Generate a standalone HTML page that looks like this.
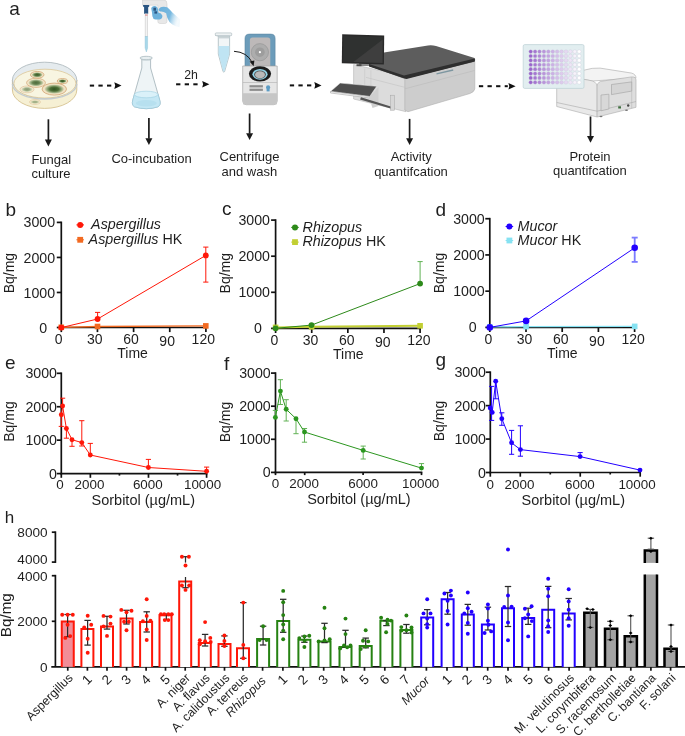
<!DOCTYPE html><html><head><meta charset="utf-8"><style>html,body{margin:0;padding:0;background:#fff;overflow:hidden}svg{display:block;will-change:transform}text{font-family:"Liberation Sans",sans-serif}</style></head><body>
<svg width="685" height="736" viewBox="0 0 685 736">
<rect width="685" height="736" fill="#fff"/>
<text x="9.30" y="14.60" font-size="19" text-anchor="start" fill="#1e1e1e" >a</text>
<defs><radialGradient id="col"><stop offset="0" stop-color="#2f5220"/><stop offset="0.45" stop-color="#4e6f37"/><stop offset="0.75" stop-color="#98ad7f"/><stop offset="1" stop-color="#e6dcb9"/></radialGradient></defs>
<path d="M12.399999999999999,80 A32.2,18 0 0 0 76.80000000000001,80 L76.80000000000001,90 A32.2,18.4 0 0 1 12.399999999999999,90 Z" fill="#f6f0d4" stroke="#d6c290" stroke-width="0.9"/>
<ellipse cx="44.6" cy="80.2" rx="32.2" ry="18" fill="#e5ebee" stroke="#b1bbbf" stroke-width="0.9"/>
<ellipse cx="44.9" cy="83.6" rx="31.0" ry="14.4" fill="#f8f5e1" stroke="#dcc797" stroke-width="0.8"/>
<path d="M12.399999999999999,84 A32.2,15 0 0 0 76.80000000000001,84" fill="none" stroke="#c3cbcf" stroke-width="1.3"/>
<g opacity="0.95"><ellipse cx="37.2" cy="74.8" rx="6.8" ry="3.4" fill="#f1e2c4" stroke="#d2a574" stroke-width="0.8"/><ellipse cx="37.2" cy="74.8" rx="5.44" ry="2.652" fill="url(#col)"/></g>
<g opacity="0.85"><ellipse cx="36" cy="82.8" rx="9.5" ry="4.6" fill="#f1e2c4" stroke="#d2a574" stroke-width="0.8"/><ellipse cx="36" cy="82.8" rx="7.6000000000000005" ry="3.5879999999999996" fill="url(#col)"/></g>
<g opacity="1.0"><ellipse cx="62.5" cy="81.1" rx="5.2" ry="2.5" fill="#f1e2c4" stroke="#d2a574" stroke-width="0.8"/><ellipse cx="62.5" cy="81.1" rx="4.16" ry="1.9500000000000002" fill="url(#col)"/></g>
<g opacity="1.0"><ellipse cx="54.3" cy="89.1" rx="12.2" ry="6.0" fill="#f1e2c4" stroke="#d2a574" stroke-width="0.8"/><ellipse cx="54.3" cy="89.1" rx="9.76" ry="4.68" fill="url(#col)"/></g>
<g opacity="0.55"><ellipse cx="27" cy="89.4" rx="7" ry="3.4" fill="#f1e2c4" stroke="#d2a574" stroke-width="0.8"/><ellipse cx="27" cy="89.4" rx="5.6000000000000005" ry="2.652" fill="url(#col)"/></g>
<g opacity="0.45"><ellipse cx="35" cy="102" rx="5.5" ry="2.4" fill="#f1e2c4" stroke="#d2a574" stroke-width="0.8"/><ellipse cx="35" cy="102" rx="4.4" ry="1.8719999999999999" fill="url(#col)"/></g>
<path d="M141.8,58.5 L141.8,68 L132.8,100 Q131.3,105 134.5,106.8 Q146.3,110.6 158,106.8 Q161.2,105 159.7,100 L150.6,68 L150.6,58.5 Z" fill="#eef4f6" stroke="#9fb0b6" stroke-width="0.8"/>
<path d="M134.35,94.5 L158.1,94.5 L159.7,100 Q161.2,105 158,106.8 Q146.3,110.6 134.5,106.8 Q131.3,105 132.8,100 Z" fill="#c4e7f4" stroke="#93c8dc" stroke-width="0.6"/>
<ellipse cx="146.3" cy="103.2" rx="10.5" ry="3.2" fill="#b7e0ef"/>
<ellipse cx="146.2" cy="94.5" rx="11.8" ry="3.3" fill="#daf1f9" stroke="#9ccfe1" stroke-width="0.6"/>
<ellipse cx="146.2" cy="58.0" rx="6.2" ry="1.7" fill="#e8eff1" stroke="#9fb0b6" stroke-width="0.7"/>
<line x1="142.20" y1="60.20" x2="150.20" y2="60.20" stroke="#c3cfd3" stroke-width="0.8" />
<defs><linearGradient id="glove" x1="0" x2="1" y1="0" y2="0.3"><stop offset="0" stop-color="#6aafda"/><stop offset="0.6" stop-color="#78b9e0"/><stop offset="1" stop-color="#d8ecf7" stop-opacity="0.3"/></linearGradient></defs>
<path d="M142.5,0 L164,0 Q167,0 167,4 L167,21.3 Q167,23.5 164.8,23.5 L160,23.5 Q157.8,23.5 157.8,21.3 L157.8,5.2 L142.5,5.2 Z" fill="#e8e8e8" stroke="#cacaca" stroke-width="0.5"/>
<path d="M143.1,5.1 L149.2,5.1 L149.2,6.6 L148.2,7.3 L148.2,13.8 L144.1,13.8 L144.1,7.3 L143.1,6.6 Z" fill="#2a5582"/>
<path d="M151.2,8.6 Q151.6,5.9 154.6,5.9 Q157.6,6.3 158.1,9.5 L158.3,12.6 Q161.6,13.2 162.4,15.8 Q162.6,18.8 159.6,19.6 L155.6,19.6 Q152.8,19 152.4,16.2 L152,12.5 Z" fill="#6db1db"/>
<rect x="153.40" y="7.70" width="2.60" height="3.00" fill="#2a5582" stroke="none" stroke-width="0"/>
<rect x="154.40" y="11.30" width="2.70" height="2.30" fill="#2a5582" stroke="none" stroke-width="0"/>
<path d="M158.6,9.6 Q159.6,7.0 163.4,6.8 Q167.6,6.6 169.4,9.2 L172.4,12.6 Q176.4,16.2 180.2,19.4 L179.6,27.2 Q175.6,26.6 172.4,24.4 Q168.6,22.2 167.2,17.6 L166.2,13.2 Q163.2,11.2 160.2,11.6 Q158.6,11.2 158.6,9.6 Z" fill="url(#glove)"/>
<rect x="145.10" y="13.80" width="2.50" height="23.00" fill="#f3f3f3" stroke="#b5b5b5" stroke-width="0.4"/>
<path d="M145.1,36.5 L147.6,36.5 L147.6,48 L146.35,52 L145.1,48 Z" fill="#a8d8ea" stroke="#8cc0d4" stroke-width="0.4"/>
<rect x="145.10" y="14.60" width="2.50" height="0.90" fill="#e07070" stroke="none" stroke-width="0"/>
<path d="M218.3,35.8 L229.6,35.8 L229.6,54 L224.6,71.6 Q223.8,72.6 223,71.6 L218.3,54 Z" fill="#f2f6f7" stroke="#9eb0b6" stroke-width="0.7"/>
<path d="M218.6,46 L229.3,46 L229.3,54 L224.5,71 Q223.8,72 223.1,71 L218.6,54 Z" fill="#bfe4f3"/>
<rect x="218.70" y="35.80" width="10.60" height="2.60" fill="#c9d3d6" stroke="none" stroke-width="0"/>
<path d="M215.2,34.8 L215.5,35.8 L218.6,36.6 L218.6,35 Z" fill="#b9c4c8"/>
<rect x="215.3" y="32.9" width="16.4" height="2.8" rx="0.8" fill="#eef2f3" stroke="#a5b4b9" stroke-width="0.6"/>
<path d="M245,66.2 L245,38.5 Q245,34.1 249.5,34.1 L270.6,34.1 Q275.1,34.1 275.1,38.5 L275.1,66.2 Z" fill="#6c9cba" stroke="#5a86a2" stroke-width="0.6"/>
<path d="M249.9,66 L249.9,40 Q249.9,37.4 252.5,37.4 L267.7,37.4 Q270.3,37.4 270.3,40 L270.3,66 Z" fill="#bdb9b9"/>
<circle cx="259.9" cy="52.2" r="8.6" fill="#adadad" stroke="#9b9b9b" stroke-width="0.8"/>
<circle cx="259.9" cy="52.2" r="4.8" fill="#9d9d9d"/>
<circle cx="259.9" cy="52.2" r="1.1" fill="#fff"/>
<path d="M242.7,66 L277.2,66 L277.2,101 Q277.2,104.7 273.5,104.7 L246.4,104.7 Q242.7,104.7 242.7,101 Z" fill="#e6e6e6" stroke="#a5a5a5" stroke-width="0.7"/>
<rect x="243.10" y="93.40" width="33.70" height="11.00" fill="#c8c8c8" stroke="none" stroke-width="0"/>
<path d="M243.1,93.4 L276.8,93.4 L276.8,101 Q276.8,104.3 273.5,104.3 L246.4,104.3 Q243.1,104.3 243.1,101 Z" fill="#c6c6c6"/>
<line x1="242.80" y1="82.50" x2="277.10" y2="82.50" stroke="#b0b0b0" stroke-width="0.6" />
<ellipse cx="260" cy="73.8" rx="11.1" ry="7.6" fill="#1c1c1c"/>
<ellipse cx="260" cy="74.3" rx="7.6" ry="5.4" fill="#93d4e8"/>
<ellipse cx="260" cy="74.6" rx="5.9" ry="4.1" fill="#555"/>
<ellipse cx="260" cy="74.8" rx="5.0" ry="3.5" fill="#b9b9b9"/>
<rect x="249.50" y="85.20" width="13.40" height="2.20" fill="#8d8d8d" stroke="none" stroke-width="0"/>
<rect x="249.50" y="88.70" width="13.40" height="2.20" fill="#8d8d8d" stroke="none" stroke-width="0"/>
<circle cx="268.1" cy="87.4" r="2.1" fill="#5d9cc4"/>
<rect x="266.60" y="89.00" width="3.00" height="2.40" fill="#5d9cc4" stroke="none" stroke-width="0"/>
<path d="M234,51.3 Q247,52 252.2,62.5" fill="none" stroke="#1a1a1a" stroke-width="1"/>
<polyline points="249.60,61.50 253.60,66.20 254.40,60.40 249.60,61.50" fill="#1a1a1a" stroke="none" stroke-width="0" />
<path d="M353.6,64.5 L406,76.5 L406,111.7 L353.6,99 Z" fill="#dcdcdc" stroke="#b5b5b5" stroke-width="0.6"/>
<path d="M404.8,78 L474.8,61.5 L474.8,89 Q474,92 470,93.5 L408,111.7 L404.8,110 Z" fill="#cdcdcd" stroke="#b0b0b0" stroke-width="0.6"/>
<line x1="404.80" y1="88.80" x2="474.60" y2="70.50" stroke="#bdbdbd" stroke-width="0.7" />
<line x1="366.00" y1="77.40" x2="405.50" y2="87.50" stroke="#c2c2c2" stroke-width="0.6" />
<line x1="364.70" y1="68.70" x2="364.70" y2="97.50" stroke="#c8c8c8" stroke-width="0.6" />
<line x1="370.90" y1="70.20" x2="370.90" y2="99.50" stroke="#c8c8c8" stroke-width="0.6" />
<path d="M369,64 L384,52.5 L428,45.4 Q432,44.8 436,46 L474.5,58 Q476,60 474.5,61.5 L407,78.2 Q405,79 403,78.2 L369,66 Z" fill="#5d5d5d"/>
<path d="M369,64 L404,75.6 L474.8,58.5 L474.8,61.6 L406.5,79 L369,66.6 Z" fill="#2e2e2e"/>
<line x1="436.50" y1="73.80" x2="453.20" y2="70.00" stroke="#7d96a0" stroke-width="1.3" />
<rect x="359" y="62" width="10" height="4" fill="#8a8a8a"/>
<polyline points="342.20,34.20 384.20,35.60 383.90,64.40 341.80,63.20 342.20,34.20" fill="#2a2a2a" stroke="none" stroke-width="0" />
<polyline points="343.50,35.90 382.70,37.10 382.50,62.90 343.20,61.80 343.50,35.90" fill="#2f3130" stroke="none" stroke-width="0" />
<polyline points="382.70,39.60 382.50,62.90 353.40,62.10 382.70,39.60" fill="#3e3e3e" stroke="none" stroke-width="0" />
<rect x="356.50" y="64.20" width="5.00" height="2.00" fill="#4a4a4a" stroke="none" stroke-width="0"/>
<path d="M330.5,91.4 L340.2,83.1 L376.7,86.3 L369.7,96.5 Z" fill="#4e4e4e" stroke="#eee" stroke-width="0.5"/>
<path d="M330.5,91.4 L369.7,96.5 L369.7,98 L330.5,93 Z" fill="#f2f2f2" stroke="#999" stroke-width="0.5"/>
<path d="M369,97.5 L378.5,87 L378.5,106 L372.5,108 Z" fill="#cfcfcf"/>
<path d="M361,97.2 L394,107.4 L394,109.6 L360,99.4 Z" fill="#555"/>
<rect x="390.60" y="95.20" width="4.00" height="15.00" fill="#d6d6d6" stroke="#a5a5a5" stroke-width="0.5"/>
<path d="M552,74 L584.4,70.1 Q592,67.6 600.1,68.1 L631.7,73.1 Q636,74.5 636,78 L592.3,81 Z" fill="#f3f3f3" stroke="#a9a9a9" stroke-width="0.6"/>
<path d="M552,74 L589,80.2 Q596.5,81.2 597.1,86 L597.1,117 L556.7,106.5 L556.7,79 Z" fill="#e9e9e9" stroke="#a9a9a9" stroke-width="0.6"/>
<path d="M597.1,86 Q597.5,81.4 603,81 L631.7,76.9 Q636,76.8 636,80 L636,107.3 L597.1,117 Z" fill="#dedede" stroke="#a9a9a9" stroke-width="0.6"/>
<line x1="631.70" y1="77.00" x2="631.70" y2="108.30" stroke="#b9b9b9" stroke-width="0.6" />
<line x1="556.70" y1="102.50" x2="597.10" y2="111.20" stroke="#a8a8a8" stroke-width="0.6" />
<line x1="597.10" y1="111.20" x2="636.00" y2="101.50" stroke="#a8a8a8" stroke-width="0.6" />
<path d="M611.5,84.5 L631.7,81.9 L631.7,91.1 L611.5,94.6 Z" fill="#d4d4d4" stroke="#9f9f9f" stroke-width="0.6"/>
<path d="M601,95 L608.9,94.2 L608.9,109 L601,110.8 Z" fill="#d8d8d8" stroke="#a3a3a3" stroke-width="0.6"/>
<rect x="618.20" y="106.30" width="2.80" height="2.20" fill="#3f6f3f" stroke="none" stroke-width="0"/>
<circle cx="628.20" cy="105.50" r="1.2" fill="#444"/>
<ellipse cx="601" cy="116.5" rx="1.5" ry="0.8" fill="#777"/>
<ellipse cx="626.5" cy="110.3" rx="1.5" ry="0.8" fill="#777"/>
<rect x="523.2" y="44.6" width="60.8" height="43.8" rx="1.5" fill="#e2eef0" stroke="#bcd0d4" stroke-width="0.7"/>
<circle cx="530.70" cy="51.60" r="1.85" fill="#9a66cc" stroke="#c9c3d6" stroke-width="0.3"/>
<circle cx="530.70" cy="55.99" r="1.85" fill="#9a66cc" stroke="#c9c3d6" stroke-width="0.3"/>
<circle cx="530.70" cy="60.38" r="1.85" fill="#9a66cc" stroke="#c9c3d6" stroke-width="0.3"/>
<circle cx="530.70" cy="64.77" r="1.85" fill="#9a66cc" stroke="#c9c3d6" stroke-width="0.3"/>
<circle cx="530.70" cy="69.16" r="1.85" fill="#9a66cc" stroke="#c9c3d6" stroke-width="0.3"/>
<circle cx="530.70" cy="73.55" r="1.85" fill="#9a66cc" stroke="#c9c3d6" stroke-width="0.3"/>
<circle cx="530.70" cy="77.94" r="1.85" fill="#9a66cc" stroke="#c9c3d6" stroke-width="0.3"/>
<circle cx="530.70" cy="82.33" r="1.85" fill="#9a66cc" stroke="#c9c3d6" stroke-width="0.3"/>
<circle cx="535.11" cy="51.60" r="1.85" fill="#a577d1" stroke="#c9c3d6" stroke-width="0.3"/>
<circle cx="535.11" cy="55.99" r="1.85" fill="#a577d1" stroke="#c9c3d6" stroke-width="0.3"/>
<circle cx="535.11" cy="60.38" r="1.85" fill="#a577d1" stroke="#c9c3d6" stroke-width="0.3"/>
<circle cx="535.11" cy="64.77" r="1.85" fill="#a577d1" stroke="#c9c3d6" stroke-width="0.3"/>
<circle cx="535.11" cy="69.16" r="1.85" fill="#a577d1" stroke="#c9c3d6" stroke-width="0.3"/>
<circle cx="535.11" cy="73.55" r="1.85" fill="#a577d1" stroke="#c9c3d6" stroke-width="0.3"/>
<circle cx="535.11" cy="77.94" r="1.85" fill="#a577d1" stroke="#c9c3d6" stroke-width="0.3"/>
<circle cx="535.11" cy="82.33" r="1.85" fill="#a577d1" stroke="#c9c3d6" stroke-width="0.3"/>
<circle cx="539.52" cy="51.60" r="1.85" fill="#af86d6" stroke="#c9c3d6" stroke-width="0.3"/>
<circle cx="539.52" cy="55.99" r="1.85" fill="#af86d6" stroke="#c9c3d6" stroke-width="0.3"/>
<circle cx="539.52" cy="60.38" r="1.85" fill="#af86d6" stroke="#c9c3d6" stroke-width="0.3"/>
<circle cx="539.52" cy="64.77" r="1.85" fill="#af86d6" stroke="#c9c3d6" stroke-width="0.3"/>
<circle cx="539.52" cy="69.16" r="1.85" fill="#af86d6" stroke="#c9c3d6" stroke-width="0.3"/>
<circle cx="539.52" cy="73.55" r="1.85" fill="#af86d6" stroke="#c9c3d6" stroke-width="0.3"/>
<circle cx="539.52" cy="77.94" r="1.85" fill="#af86d6" stroke="#c9c3d6" stroke-width="0.3"/>
<circle cx="539.52" cy="82.33" r="1.85" fill="#af86d6" stroke="#c9c3d6" stroke-width="0.3"/>
<circle cx="543.93" cy="51.60" r="1.85" fill="#b995db" stroke="#c9c3d6" stroke-width="0.3"/>
<circle cx="543.93" cy="55.99" r="1.85" fill="#b995db" stroke="#c9c3d6" stroke-width="0.3"/>
<circle cx="543.93" cy="60.38" r="1.85" fill="#b995db" stroke="#c9c3d6" stroke-width="0.3"/>
<circle cx="543.93" cy="64.77" r="1.85" fill="#b995db" stroke="#c9c3d6" stroke-width="0.3"/>
<circle cx="543.93" cy="69.16" r="1.85" fill="#b995db" stroke="#c9c3d6" stroke-width="0.3"/>
<circle cx="543.93" cy="73.55" r="1.85" fill="#b995db" stroke="#c9c3d6" stroke-width="0.3"/>
<circle cx="543.93" cy="77.94" r="1.85" fill="#b995db" stroke="#c9c3d6" stroke-width="0.3"/>
<circle cx="543.93" cy="82.33" r="1.85" fill="#b995db" stroke="#c9c3d6" stroke-width="0.3"/>
<circle cx="548.34" cy="51.60" r="1.85" fill="#c2a3e0" stroke="#c9c3d6" stroke-width="0.3"/>
<circle cx="548.34" cy="55.99" r="1.85" fill="#c2a3e0" stroke="#c9c3d6" stroke-width="0.3"/>
<circle cx="548.34" cy="60.38" r="1.85" fill="#c2a3e0" stroke="#c9c3d6" stroke-width="0.3"/>
<circle cx="548.34" cy="64.77" r="1.85" fill="#c2a3e0" stroke="#c9c3d6" stroke-width="0.3"/>
<circle cx="548.34" cy="69.16" r="1.85" fill="#c2a3e0" stroke="#c9c3d6" stroke-width="0.3"/>
<circle cx="548.34" cy="73.55" r="1.85" fill="#c2a3e0" stroke="#c9c3d6" stroke-width="0.3"/>
<circle cx="548.34" cy="77.94" r="1.85" fill="#c2a3e0" stroke="#c9c3d6" stroke-width="0.3"/>
<circle cx="548.34" cy="82.33" r="1.85" fill="#c2a3e0" stroke="#c9c3d6" stroke-width="0.3"/>
<circle cx="552.75" cy="51.60" r="1.85" fill="#cbb1e5" stroke="#c9c3d6" stroke-width="0.3"/>
<circle cx="552.75" cy="55.99" r="1.85" fill="#cbb1e5" stroke="#c9c3d6" stroke-width="0.3"/>
<circle cx="552.75" cy="60.38" r="1.85" fill="#cbb1e5" stroke="#c9c3d6" stroke-width="0.3"/>
<circle cx="552.75" cy="64.77" r="1.85" fill="#cbb1e5" stroke="#c9c3d6" stroke-width="0.3"/>
<circle cx="552.75" cy="69.16" r="1.85" fill="#cbb1e5" stroke="#c9c3d6" stroke-width="0.3"/>
<circle cx="552.75" cy="73.55" r="1.85" fill="#cbb1e5" stroke="#c9c3d6" stroke-width="0.3"/>
<circle cx="552.75" cy="77.94" r="1.85" fill="#cbb1e5" stroke="#c9c3d6" stroke-width="0.3"/>
<circle cx="552.75" cy="82.33" r="1.85" fill="#cbb1e5" stroke="#c9c3d6" stroke-width="0.3"/>
<circle cx="557.16" cy="51.60" r="1.85" fill="#d4bee9" stroke="#c9c3d6" stroke-width="0.3"/>
<circle cx="557.16" cy="55.99" r="1.85" fill="#d4bee9" stroke="#c9c3d6" stroke-width="0.3"/>
<circle cx="557.16" cy="60.38" r="1.85" fill="#d4bee9" stroke="#c9c3d6" stroke-width="0.3"/>
<circle cx="557.16" cy="64.77" r="1.85" fill="#d4bee9" stroke="#c9c3d6" stroke-width="0.3"/>
<circle cx="557.16" cy="69.16" r="1.85" fill="#d4bee9" stroke="#c9c3d6" stroke-width="0.3"/>
<circle cx="557.16" cy="73.55" r="1.85" fill="#d4bee9" stroke="#c9c3d6" stroke-width="0.3"/>
<circle cx="557.16" cy="77.94" r="1.85" fill="#d4bee9" stroke="#c9c3d6" stroke-width="0.3"/>
<circle cx="557.16" cy="82.33" r="1.85" fill="#d4bee9" stroke="#c9c3d6" stroke-width="0.3"/>
<circle cx="561.57" cy="51.60" r="1.85" fill="#ddcbed" stroke="#c9c3d6" stroke-width="0.3"/>
<circle cx="561.57" cy="55.99" r="1.85" fill="#ddcbed" stroke="#c9c3d6" stroke-width="0.3"/>
<circle cx="561.57" cy="60.38" r="1.85" fill="#ddcbed" stroke="#c9c3d6" stroke-width="0.3"/>
<circle cx="561.57" cy="64.77" r="1.85" fill="#ddcbed" stroke="#c9c3d6" stroke-width="0.3"/>
<circle cx="561.57" cy="69.16" r="1.85" fill="#ddcbed" stroke="#c9c3d6" stroke-width="0.3"/>
<circle cx="561.57" cy="73.55" r="1.85" fill="#ddcbed" stroke="#c9c3d6" stroke-width="0.3"/>
<circle cx="561.57" cy="77.94" r="1.85" fill="#ddcbed" stroke="#c9c3d6" stroke-width="0.3"/>
<circle cx="561.57" cy="82.33" r="1.85" fill="#ddcbed" stroke="#c9c3d6" stroke-width="0.3"/>
<circle cx="565.98" cy="51.60" r="1.85" fill="#e5d8f2" stroke="#c9c3d6" stroke-width="0.3"/>
<circle cx="565.98" cy="55.99" r="1.85" fill="#e5d8f2" stroke="#c9c3d6" stroke-width="0.3"/>
<circle cx="565.98" cy="60.38" r="1.85" fill="#e5d8f2" stroke="#c9c3d6" stroke-width="0.3"/>
<circle cx="565.98" cy="64.77" r="1.85" fill="#e5d8f2" stroke="#c9c3d6" stroke-width="0.3"/>
<circle cx="565.98" cy="69.16" r="1.85" fill="#e5d8f2" stroke="#c9c3d6" stroke-width="0.3"/>
<circle cx="565.98" cy="73.55" r="1.85" fill="#e5d8f2" stroke="#c9c3d6" stroke-width="0.3"/>
<circle cx="565.98" cy="77.94" r="1.85" fill="#e5d8f2" stroke="#c9c3d6" stroke-width="0.3"/>
<circle cx="565.98" cy="82.33" r="1.85" fill="#e5d8f2" stroke="#c9c3d6" stroke-width="0.3"/>
<circle cx="570.39" cy="51.60" r="1.85" fill="#eee5f6" stroke="#c9c3d6" stroke-width="0.3"/>
<circle cx="570.39" cy="55.99" r="1.85" fill="#eee5f6" stroke="#c9c3d6" stroke-width="0.3"/>
<circle cx="570.39" cy="60.38" r="1.85" fill="#eee5f6" stroke="#c9c3d6" stroke-width="0.3"/>
<circle cx="570.39" cy="64.77" r="1.85" fill="#eee5f6" stroke="#c9c3d6" stroke-width="0.3"/>
<circle cx="570.39" cy="69.16" r="1.85" fill="#eee5f6" stroke="#c9c3d6" stroke-width="0.3"/>
<circle cx="570.39" cy="73.55" r="1.85" fill="#eee5f6" stroke="#c9c3d6" stroke-width="0.3"/>
<circle cx="570.39" cy="77.94" r="1.85" fill="#eee5f6" stroke="#c9c3d6" stroke-width="0.3"/>
<circle cx="570.39" cy="82.33" r="1.85" fill="#eee5f6" stroke="#c9c3d6" stroke-width="0.3"/>
<circle cx="574.80" cy="51.60" r="1.85" fill="#f6f2fa" stroke="#c9c3d6" stroke-width="0.3"/>
<circle cx="574.80" cy="55.99" r="1.85" fill="#f6f2fa" stroke="#c9c3d6" stroke-width="0.3"/>
<circle cx="574.80" cy="60.38" r="1.85" fill="#f6f2fa" stroke="#c9c3d6" stroke-width="0.3"/>
<circle cx="574.80" cy="64.77" r="1.85" fill="#f6f2fa" stroke="#c9c3d6" stroke-width="0.3"/>
<circle cx="574.80" cy="69.16" r="1.85" fill="#f6f2fa" stroke="#c9c3d6" stroke-width="0.3"/>
<circle cx="574.80" cy="73.55" r="1.85" fill="#f6f2fa" stroke="#c9c3d6" stroke-width="0.3"/>
<circle cx="574.80" cy="77.94" r="1.85" fill="#f6f2fa" stroke="#c9c3d6" stroke-width="0.3"/>
<circle cx="574.80" cy="82.33" r="1.85" fill="#f6f2fa" stroke="#c9c3d6" stroke-width="0.3"/>
<circle cx="579.21" cy="51.60" r="1.85" fill="#ffffff" stroke="#c9c3d6" stroke-width="0.3"/>
<circle cx="579.21" cy="55.99" r="1.85" fill="#ffffff" stroke="#c9c3d6" stroke-width="0.3"/>
<circle cx="579.21" cy="60.38" r="1.85" fill="#ffffff" stroke="#c9c3d6" stroke-width="0.3"/>
<circle cx="579.21" cy="64.77" r="1.85" fill="#ffffff" stroke="#c9c3d6" stroke-width="0.3"/>
<circle cx="579.21" cy="69.16" r="1.85" fill="#ffffff" stroke="#c9c3d6" stroke-width="0.3"/>
<circle cx="579.21" cy="73.55" r="1.85" fill="#ffffff" stroke="#c9c3d6" stroke-width="0.3"/>
<circle cx="579.21" cy="77.94" r="1.85" fill="#ffffff" stroke="#c9c3d6" stroke-width="0.3"/>
<circle cx="579.21" cy="82.33" r="1.85" fill="#ffffff" stroke="#c9c3d6" stroke-width="0.3"/>
<rect x="89.80" y="84.60" width="4.30" height="2.00" fill="#111" stroke="none" stroke-width="0"/>
<rect x="98.40" y="84.60" width="4.30" height="2.00" fill="#111" stroke="none" stroke-width="0"/>
<rect x="107.00" y="84.60" width="4.30" height="2.00" fill="#111" stroke="none" stroke-width="0"/>
<path d="M114.30,82.30 L121.50,85.60 L114.30,88.90 L115.20,85.60 Z" fill="#111"/>
<rect x="176.10" y="83.30" width="4.30" height="2.00" fill="#111" stroke="none" stroke-width="0"/>
<rect x="184.70" y="83.30" width="4.30" height="2.00" fill="#111" stroke="none" stroke-width="0"/>
<rect x="193.30" y="83.30" width="4.30" height="2.00" fill="#111" stroke="none" stroke-width="0"/>
<path d="M202.20,81.00 L209.40,84.30 L202.20,87.60 L203.10,84.30 Z" fill="#111"/>
<rect x="289.80" y="84.40" width="4.30" height="2.00" fill="#111" stroke="none" stroke-width="0"/>
<rect x="298.40" y="84.40" width="4.30" height="2.00" fill="#111" stroke="none" stroke-width="0"/>
<rect x="307.00" y="84.40" width="4.30" height="2.00" fill="#111" stroke="none" stroke-width="0"/>
<path d="M314.30,82.10 L321.50,85.40 L314.30,88.70 L315.20,85.40 Z" fill="#111"/>
<rect x="478.90" y="85.20" width="4.30" height="2.00" fill="#111" stroke="none" stroke-width="0"/>
<rect x="487.50" y="85.20" width="4.30" height="2.00" fill="#111" stroke="none" stroke-width="0"/>
<rect x="496.10" y="85.20" width="4.30" height="2.00" fill="#111" stroke="none" stroke-width="0"/>
<rect x="504.70" y="85.20" width="3.10" height="2.00" fill="#111" stroke="none" stroke-width="0"/>
<path d="M508.40,82.90 L515.60,86.20 L508.40,89.50 L509.30,86.20 Z" fill="#111"/>
<text x="191.10" y="78.70" font-size="12.3" text-anchor="middle" fill="#1e1e1e" >2h</text>
<rect x="47.55" y="119.30" width="1.70" height="20.80" fill="#1a1a1a" stroke="none" stroke-width="0"/>
<polyline points="44.90,139.60 51.90,139.60 48.40,146.40 44.90,139.60" fill="#1a1a1a" stroke="none" stroke-width="0" />
<rect x="148.05" y="118.00" width="1.70" height="20.70" fill="#1a1a1a" stroke="none" stroke-width="0"/>
<polyline points="145.40,138.20 152.40,138.20 148.90,145.00 145.40,138.20" fill="#1a1a1a" stroke="none" stroke-width="0" />
<rect x="248.75" y="113.50" width="1.70" height="20.20" fill="#1a1a1a" stroke="none" stroke-width="0"/>
<polyline points="246.10,133.20 253.10,133.20 249.60,140.00 246.10,133.20" fill="#1a1a1a" stroke="none" stroke-width="0" />
<rect x="408.75" y="118.90" width="1.70" height="19.90" fill="#1a1a1a" stroke="none" stroke-width="0"/>
<polyline points="406.10,138.30 413.10,138.30 409.60,145.10 406.10,138.30" fill="#1a1a1a" stroke="none" stroke-width="0" />
<rect x="589.65" y="116.50" width="1.70" height="19.90" fill="#1a1a1a" stroke="none" stroke-width="0"/>
<polyline points="587.00,135.90 594.00,135.90 590.50,142.70 587.00,135.90" fill="#1a1a1a" stroke="none" stroke-width="0" />
<text x="51.30" y="163.90" font-size="13.0" text-anchor="middle" fill="#1e1e1e" >Fungal</text>
<text x="51.00" y="178.20" font-size="13.0" text-anchor="middle" fill="#1e1e1e" >culture</text>
<text x="151.50" y="162.60" font-size="13.0" text-anchor="middle" fill="#1e1e1e" >Co-incubation</text>
<text x="249.50" y="161.40" font-size="13.0" text-anchor="middle" fill="#1e1e1e" >Centrifuge</text>
<text x="249.30" y="175.80" font-size="13.0" text-anchor="middle" fill="#1e1e1e" >and wash</text>
<text x="411.30" y="161.40" font-size="13.0" text-anchor="middle" fill="#1e1e1e" >Activity</text>
<text x="411.00" y="175.60" font-size="13.0" text-anchor="middle" fill="#1e1e1e" >quantifcation</text>
<text x="590.00" y="161.00" font-size="13.0" text-anchor="middle" fill="#1e1e1e" >Protein</text>
<text x="589.80" y="175.20" font-size="13.0" text-anchor="middle" fill="#1e1e1e" >quantifcation</text>
<text x="5.60" y="215.60" font-size="19" text-anchor="start" fill="#1e1e1e" >b</text>
<line x1="61.30" y1="221.56" x2="61.30" y2="328.35" stroke="#111" stroke-width="1.7" />
<line x1="56.80" y1="222.41" x2="61.30" y2="222.41" stroke="#111" stroke-width="1.7" />
<text x="55.10" y="227.49" font-size="14.2" text-anchor="end" fill="#1e1e1e" >3000</text>
<line x1="56.80" y1="257.44" x2="61.30" y2="257.44" stroke="#111" stroke-width="1.7" />
<text x="55.10" y="262.52" font-size="14.2" text-anchor="end" fill="#1e1e1e" >2000</text>
<line x1="56.80" y1="292.47" x2="61.30" y2="292.47" stroke="#111" stroke-width="1.7" />
<text x="55.10" y="297.55" font-size="14.2" text-anchor="end" fill="#1e1e1e" >1000</text>
<line x1="56.80" y1="327.50" x2="61.30" y2="327.50" stroke="#111" stroke-width="1.7" />
<text x="47.10" y="332.58" font-size="14.2" text-anchor="end" fill="#1e1e1e" >0</text>
<line x1="60.45" y1="327.50" x2="206.75" y2="327.50" stroke="#111" stroke-width="1.7" />
<line x1="61.30" y1="327.50" x2="61.30" y2="332.10" stroke="#111" stroke-width="1.7" />
<line x1="97.45" y1="327.50" x2="97.45" y2="332.10" stroke="#111" stroke-width="1.7" />
<line x1="133.60" y1="327.50" x2="133.60" y2="332.10" stroke="#111" stroke-width="1.7" />
<line x1="169.75" y1="327.50" x2="169.75" y2="332.10" stroke="#111" stroke-width="1.7" />
<line x1="205.90" y1="327.50" x2="205.90" y2="332.10" stroke="#111" stroke-width="1.7" />
<text x="58.70" y="344.30" font-size="14" text-anchor="middle" fill="#1e1e1e" >0</text>
<text x="94.85" y="344.30" font-size="14" text-anchor="middle" fill="#1e1e1e" >30</text>
<text x="131.00" y="344.30" font-size="14" text-anchor="middle" fill="#1e1e1e" >60</text>
<text x="167.15" y="345.90" font-size="14" text-anchor="middle" fill="#1e1e1e" >90</text>
<text x="203.30" y="344.30" font-size="14" text-anchor="middle" fill="#1e1e1e" >120</text>
<text x="132.60" y="357.80" font-size="14" text-anchor="middle" fill="#1e1e1e" >Time</text>
<text x="0" y="0" font-size="14" text-anchor="middle" fill="#1e1e1e" transform="translate(14.10,273.10) rotate(-90)">Bq/mg</text>
<polyline points="61.30,327.30 97.50,326.50 205.80,325.90" fill="none" stroke="#f26a21" stroke-width="1.3" />
<rect x="58.50" y="324.50" width="5.60" height="5.60" fill="#f26a21" stroke="none" stroke-width="0"/>
<rect x="94.70" y="323.70" width="5.60" height="5.60" fill="#f26a21" stroke="none" stroke-width="0"/>
<rect x="203.00" y="323.10" width="5.60" height="5.60" fill="#f26a21" stroke="none" stroke-width="0"/>
<line x1="97.60" y1="312.40" x2="97.60" y2="319.00" stroke="#ff1708" stroke-width="1.0" />
<line x1="95.00" y1="312.40" x2="100.20" y2="312.40" stroke="#ff1708" stroke-width="1.0" />
<line x1="205.80" y1="247.10" x2="205.80" y2="255.40" stroke="#ff1708" stroke-width="1.0" />
<line x1="203.20" y1="247.10" x2="208.40" y2="247.10" stroke="#ff1708" stroke-width="1.0" />
<line x1="205.80" y1="282.10" x2="205.80" y2="255.40" stroke="#ff1708" stroke-width="1.0" />
<line x1="203.20" y1="282.10" x2="208.40" y2="282.10" stroke="#ff1708" stroke-width="1.0" />
<polyline points="61.30,327.60 97.60,319.00 205.80,255.40" fill="none" stroke="#ff1708" stroke-width="1.0" />
<circle cx="61.30" cy="327.60" r="2.9" fill="#ff1708"/>
<circle cx="97.60" cy="319.00" r="2.9" fill="#ff1708"/>
<circle cx="205.80" cy="255.40" r="2.9" fill="#ff1708"/>
<line x1="76.40" y1="224.90" x2="84.00" y2="224.90" stroke="#ff1708" stroke-width="1.0" />
<circle cx="80.20" cy="224.90" r="3.0" fill="#ff1708"/>
<rect x="77.30" y="236.90" width="5.80" height="5.80" fill="#f26a21" stroke="none" stroke-width="0"/>
<line x1="76.40" y1="239.80" x2="84.00" y2="239.80" stroke="#f26a21" stroke-width="1.0" />
<text x="91.10" y="229.30" font-size="14.3" text-anchor="start" font-style="italic" fill="#1e1e1e" >Aspergillus</text>
<text x="88.60" y="244.20" font-size="14.3" fill="#1e1e1e"><tspan font-style="italic">Aspergillus</tspan> HK</text>
<text x="221.90" y="214.90" font-size="19" text-anchor="start" fill="#1e1e1e" >c</text>
<line x1="275.60" y1="219.25" x2="275.60" y2="329.25" stroke="#111" stroke-width="1.7" />
<line x1="271.10" y1="220.10" x2="275.60" y2="220.10" stroke="#111" stroke-width="1.7" />
<text x="270.00" y="225.18" font-size="14.2" text-anchor="end" fill="#1e1e1e" >3000</text>
<line x1="271.10" y1="256.20" x2="275.60" y2="256.20" stroke="#111" stroke-width="1.7" />
<text x="270.00" y="261.28" font-size="14.2" text-anchor="end" fill="#1e1e1e" >2000</text>
<line x1="271.10" y1="292.30" x2="275.60" y2="292.30" stroke="#111" stroke-width="1.7" />
<text x="270.00" y="297.38" font-size="14.2" text-anchor="end" fill="#1e1e1e" >1000</text>
<line x1="271.10" y1="328.40" x2="275.60" y2="328.40" stroke="#111" stroke-width="1.7" />
<text x="262.00" y="333.48" font-size="14.2" text-anchor="end" fill="#1e1e1e" >0</text>
<line x1="274.75" y1="328.40" x2="420.93" y2="328.40" stroke="#111" stroke-width="1.7" />
<line x1="275.60" y1="328.40" x2="275.60" y2="333.00" stroke="#111" stroke-width="1.7" />
<line x1="311.72" y1="328.40" x2="311.72" y2="333.00" stroke="#111" stroke-width="1.7" />
<line x1="347.84" y1="328.40" x2="347.84" y2="333.00" stroke="#111" stroke-width="1.7" />
<line x1="383.96" y1="328.40" x2="383.96" y2="333.00" stroke="#111" stroke-width="1.7" />
<line x1="420.08" y1="328.40" x2="420.08" y2="333.00" stroke="#111" stroke-width="1.7" />
<text x="274.50" y="345.20" font-size="14" text-anchor="middle" fill="#1e1e1e" >0</text>
<text x="310.62" y="345.20" font-size="14" text-anchor="middle" fill="#1e1e1e" >30</text>
<text x="346.74" y="345.20" font-size="14" text-anchor="middle" fill="#1e1e1e" >60</text>
<text x="382.86" y="346.80" font-size="14" text-anchor="middle" fill="#1e1e1e" >90</text>
<text x="418.98" y="345.20" font-size="14" text-anchor="middle" fill="#1e1e1e" >120</text>
<text x="348.30" y="358.90" font-size="14" text-anchor="middle" fill="#1e1e1e" >Time</text>
<text x="0" y="0" font-size="14" text-anchor="middle" fill="#1e1e1e" transform="translate(230.10,273.20) rotate(-90)">Bq/mg</text>
<polyline points="275.60,327.40 311.60,326.80 420.10,325.80" fill="none" stroke="#c2cf33" stroke-width="2.0" />
<rect x="272.80" y="324.60" width="5.60" height="5.60" fill="#c2cf33" stroke="none" stroke-width="0"/>
<rect x="308.80" y="324.00" width="5.60" height="5.60" fill="#c2cf33" stroke="none" stroke-width="0"/>
<rect x="417.30" y="323.00" width="5.60" height="5.60" fill="#c2cf33" stroke="none" stroke-width="0"/>
<line x1="420.10" y1="261.60" x2="420.10" y2="283.60" stroke="#62b256" stroke-width="1.0" />
<line x1="417.50" y1="261.60" x2="422.70" y2="261.60" stroke="#62b256" stroke-width="1.0" />
<polyline points="275.60,328.30 311.50,325.10 420.10,283.60" fill="none" stroke="#2d8a1a" stroke-width="1.0" />
<circle cx="275.60" cy="328.30" r="2.9" fill="#2d8a1a"/>
<circle cx="311.50" cy="325.10" r="2.9" fill="#2d8a1a"/>
<circle cx="420.10" cy="283.60" r="2.9" fill="#2d8a1a"/>
<line x1="291.20" y1="227.40" x2="298.80" y2="227.40" stroke="#2d8a1a" stroke-width="1.0" />
<circle cx="295.00" cy="227.40" r="3.0" fill="#2d8a1a"/>
<rect x="292.10" y="239.20" width="5.80" height="5.80" fill="#c2cf33" stroke="none" stroke-width="0"/>
<line x1="291.20" y1="242.10" x2="298.80" y2="242.10" stroke="#c2cf33" stroke-width="1.0" />
<text x="302.60" y="231.60" font-size="14.3" text-anchor="start" font-style="italic" fill="#1e1e1e" >Rhizopus</text>
<text x="302.40" y="245.60" font-size="14.3" fill="#1e1e1e"><tspan font-style="italic">Rhizopus</tspan> HK</text>
<text x="435.60" y="215.80" font-size="19" text-anchor="start" fill="#1e1e1e" >d</text>
<line x1="489.80" y1="217.86" x2="489.80" y2="328.25" stroke="#111" stroke-width="1.7" />
<line x1="485.30" y1="218.71" x2="489.80" y2="218.71" stroke="#111" stroke-width="1.7" />
<text x="484.70" y="223.79" font-size="14.2" text-anchor="end" fill="#1e1e1e" >3000</text>
<line x1="485.30" y1="254.94" x2="489.80" y2="254.94" stroke="#111" stroke-width="1.7" />
<text x="484.70" y="260.02" font-size="14.2" text-anchor="end" fill="#1e1e1e" >2000</text>
<line x1="485.30" y1="291.17" x2="489.80" y2="291.17" stroke="#111" stroke-width="1.7" />
<text x="484.70" y="296.25" font-size="14.2" text-anchor="end" fill="#1e1e1e" >1000</text>
<line x1="485.30" y1="327.40" x2="489.80" y2="327.40" stroke="#111" stroke-width="1.7" />
<text x="476.70" y="332.48" font-size="14.2" text-anchor="end" fill="#1e1e1e" >0</text>
<line x1="488.95" y1="327.40" x2="635.45" y2="327.40" stroke="#111" stroke-width="1.7" />
<line x1="489.80" y1="327.40" x2="489.80" y2="332.00" stroke="#111" stroke-width="1.7" />
<line x1="526.00" y1="327.40" x2="526.00" y2="332.00" stroke="#111" stroke-width="1.7" />
<line x1="562.20" y1="327.40" x2="562.20" y2="332.00" stroke="#111" stroke-width="1.7" />
<line x1="598.40" y1="327.40" x2="598.40" y2="332.00" stroke="#111" stroke-width="1.7" />
<line x1="634.60" y1="327.40" x2="634.60" y2="332.00" stroke="#111" stroke-width="1.7" />
<text x="488.30" y="344.20" font-size="14" text-anchor="middle" fill="#1e1e1e" >0</text>
<text x="524.50" y="344.20" font-size="14" text-anchor="middle" fill="#1e1e1e" >30</text>
<text x="560.70" y="344.20" font-size="14" text-anchor="middle" fill="#1e1e1e" >60</text>
<text x="596.90" y="345.80" font-size="14" text-anchor="middle" fill="#1e1e1e" >90</text>
<text x="633.10" y="344.20" font-size="14" text-anchor="middle" fill="#1e1e1e" >120</text>
<text x="562.30" y="357.80" font-size="14" text-anchor="middle" fill="#1e1e1e" >Time</text>
<text x="0" y="0" font-size="14" text-anchor="middle" fill="#1e1e1e" transform="translate(444.00,273.00) rotate(-90)">Bq/mg</text>
<polyline points="489.80,326.90 526.10,326.60 634.70,326.40" fill="none" stroke="#86e2f2" stroke-width="1.3" />
<rect x="487.00" y="324.10" width="5.60" height="5.60" fill="#86e2f2" stroke="none" stroke-width="0"/>
<rect x="523.30" y="323.80" width="5.60" height="5.60" fill="#86e2f2" stroke="none" stroke-width="0"/>
<rect x="631.90" y="323.60" width="5.60" height="5.60" fill="#86e2f2" stroke="none" stroke-width="0"/>
<line x1="634.70" y1="237.60" x2="634.70" y2="247.80" stroke="#7b7bff" stroke-width="1.8" />
<line x1="631.70" y1="237.60" x2="637.70" y2="237.60" stroke="#7b7bff" stroke-width="1.8" />
<line x1="634.70" y1="261.90" x2="634.70" y2="247.80" stroke="#7b7bff" stroke-width="1.8" />
<line x1="631.70" y1="261.90" x2="637.70" y2="261.90" stroke="#7b7bff" stroke-width="1.8" />
<polyline points="489.80,327.40 526.10,320.90 634.70,247.80" fill="none" stroke="#2200ff" stroke-width="1.0" />
<circle cx="489.80" cy="327.40" r="3.3" fill="#2200ff"/>
<circle cx="526.10" cy="320.90" r="3.3" fill="#2200ff"/>
<circle cx="634.70" cy="247.80" r="3.3" fill="#2200ff"/>
<line x1="505.60" y1="226.50" x2="513.20" y2="226.50" stroke="#2200ff" stroke-width="1.0" />
<circle cx="509.40" cy="226.50" r="3.0" fill="#2200ff"/>
<rect x="506.50" y="237.60" width="5.80" height="5.80" fill="#86e2f2" stroke="none" stroke-width="0"/>
<line x1="505.60" y1="240.50" x2="513.20" y2="240.50" stroke="#86e2f2" stroke-width="1.0" />
<text x="517.60" y="230.60" font-size="14.3" text-anchor="start" font-style="italic" fill="#1e1e1e" >Mucor</text>
<text x="517.60" y="245.00" font-size="14.3" fill="#1e1e1e"><tspan font-style="italic">Mucor</tspan> HK</text>
<text x="5.00" y="368.60" font-size="19" text-anchor="start" fill="#1e1e1e" >e</text>
<line x1="61.30" y1="372.46" x2="61.30" y2="474.45" stroke="#111" stroke-width="1.7" />
<line x1="56.80" y1="373.31" x2="61.30" y2="373.31" stroke="#111" stroke-width="1.7" />
<text x="57.00" y="378.39" font-size="14.2" text-anchor="end" fill="#1e1e1e" >3000</text>
<line x1="56.80" y1="406.74" x2="61.30" y2="406.74" stroke="#111" stroke-width="1.7" />
<text x="57.00" y="411.82" font-size="14.2" text-anchor="end" fill="#1e1e1e" >2000</text>
<line x1="56.80" y1="440.17" x2="61.30" y2="440.17" stroke="#111" stroke-width="1.7" />
<text x="57.00" y="445.25" font-size="14.2" text-anchor="end" fill="#1e1e1e" >1000</text>
<line x1="56.80" y1="473.60" x2="61.30" y2="473.60" stroke="#111" stroke-width="1.7" />
<text x="57.00" y="478.68" font-size="14.2" text-anchor="end" fill="#1e1e1e" >0</text>
<line x1="60.45" y1="473.60" x2="207.45" y2="473.60" stroke="#111" stroke-width="1.7" />
<line x1="61.30" y1="473.60" x2="61.30" y2="477.80" stroke="#111" stroke-width="1.7" />
<text x="60.10" y="488.60" font-size="13.4" text-anchor="middle" fill="#1e1e1e" >0</text>
<line x1="90.36" y1="473.60" x2="90.36" y2="477.80" stroke="#111" stroke-width="1.7" />
<text x="89.46" y="488.60" font-size="13.4" text-anchor="middle" fill="#1e1e1e" >2000</text>
<line x1="148.48" y1="473.60" x2="148.48" y2="477.80" stroke="#111" stroke-width="1.7" />
<text x="147.83" y="488.60" font-size="13.4" text-anchor="middle" fill="#1e1e1e" >6000</text>
<line x1="206.60" y1="473.60" x2="206.60" y2="477.80" stroke="#111" stroke-width="1.7" />
<text x="202.60" y="488.60" font-size="13.4" text-anchor="middle" fill="#1e1e1e" >10000</text>
<line x1="119.42" y1="473.60" x2="119.42" y2="475.60" stroke="#111" stroke-width="1.7" />
<line x1="177.54" y1="473.60" x2="177.54" y2="475.60" stroke="#111" stroke-width="1.7" />
<text x="143.25" y="504.60" font-size="14.5" text-anchor="middle" fill="#1e1e1e" >Sorbitol (µg/mL)</text>
<text x="0" y="0" font-size="14" text-anchor="middle" fill="#1e1e1e" transform="translate(14.30,421.50) rotate(-90)">Bq/mg</text>
<line x1="61.30" y1="426.40" x2="61.30" y2="414.70" stroke="#ff1708" stroke-width="1.0" />
<line x1="58.70" y1="426.40" x2="63.90" y2="426.40" stroke="#ff1708" stroke-width="1.0" />
<line x1="62.60" y1="398.20" x2="62.60" y2="406.00" stroke="#ff1708" stroke-width="1.0" />
<line x1="60.00" y1="398.20" x2="65.20" y2="398.20" stroke="#ff1708" stroke-width="1.0" />
<line x1="66.40" y1="438.20" x2="66.40" y2="428.50" stroke="#ff1708" stroke-width="1.0" />
<line x1="63.80" y1="438.20" x2="69.00" y2="438.20" stroke="#ff1708" stroke-width="1.0" />
<line x1="72.00" y1="446.30" x2="72.00" y2="439.70" stroke="#ff1708" stroke-width="1.0" />
<line x1="69.40" y1="446.30" x2="74.60" y2="446.30" stroke="#ff1708" stroke-width="1.0" />
<line x1="81.80" y1="420.70" x2="81.80" y2="442.60" stroke="#ff1708" stroke-width="1.0" />
<line x1="79.20" y1="420.70" x2="84.40" y2="420.70" stroke="#ff1708" stroke-width="1.0" />
<line x1="81.80" y1="446.00" x2="81.80" y2="442.60" stroke="#ff1708" stroke-width="1.0" />
<line x1="79.20" y1="446.00" x2="84.40" y2="446.00" stroke="#ff1708" stroke-width="1.0" />
<line x1="90.30" y1="443.40" x2="90.30" y2="455.00" stroke="#ff1708" stroke-width="1.0" />
<line x1="87.70" y1="443.40" x2="92.90" y2="443.40" stroke="#ff1708" stroke-width="1.0" />
<line x1="148.40" y1="459.40" x2="148.40" y2="467.50" stroke="#ff1708" stroke-width="1.0" />
<line x1="145.80" y1="459.40" x2="151.00" y2="459.40" stroke="#ff1708" stroke-width="1.0" />
<line x1="206.60" y1="467.10" x2="206.60" y2="471.30" stroke="#ff1708" stroke-width="1.0" />
<line x1="204.00" y1="467.10" x2="209.20" y2="467.10" stroke="#ff1708" stroke-width="1.0" />
<polyline points="61.30,414.70 62.60,406.00 66.40,428.50 72.00,439.70 81.80,442.60 90.30,455.00 148.40,467.50 206.60,471.30" fill="none" stroke="#ff1708" stroke-width="1.0" />
<circle cx="61.30" cy="414.70" r="2.45" fill="#ff1708"/>
<circle cx="62.60" cy="406.00" r="2.45" fill="#ff1708"/>
<circle cx="66.40" cy="428.50" r="2.45" fill="#ff1708"/>
<circle cx="72.00" cy="439.70" r="2.45" fill="#ff1708"/>
<circle cx="81.80" cy="442.60" r="2.45" fill="#ff1708"/>
<circle cx="90.30" cy="455.00" r="2.45" fill="#ff1708"/>
<circle cx="148.40" cy="467.50" r="2.45" fill="#ff1708"/>
<circle cx="206.60" cy="471.30" r="2.45" fill="#ff1708"/>
<text x="224.00" y="369.60" font-size="19" text-anchor="start" fill="#1e1e1e" >f</text>
<line x1="275.50" y1="372.25" x2="275.50" y2="473.25" stroke="#111" stroke-width="1.7" />
<line x1="271.00" y1="373.10" x2="275.50" y2="373.10" stroke="#111" stroke-width="1.7" />
<text x="270.70" y="378.18" font-size="14.2" text-anchor="end" fill="#1e1e1e" >3000</text>
<line x1="271.00" y1="406.20" x2="275.50" y2="406.20" stroke="#111" stroke-width="1.7" />
<text x="270.70" y="411.28" font-size="14.2" text-anchor="end" fill="#1e1e1e" >2000</text>
<line x1="271.00" y1="439.30" x2="275.50" y2="439.30" stroke="#111" stroke-width="1.7" />
<text x="270.70" y="444.38" font-size="14.2" text-anchor="end" fill="#1e1e1e" >1000</text>
<line x1="271.00" y1="472.40" x2="275.50" y2="472.40" stroke="#111" stroke-width="1.7" />
<text x="270.70" y="477.48" font-size="14.2" text-anchor="end" fill="#1e1e1e" >0</text>
<line x1="274.65" y1="472.40" x2="422.35" y2="472.40" stroke="#111" stroke-width="1.7" />
<line x1="275.50" y1="472.40" x2="275.50" y2="475.10" stroke="#111" stroke-width="1.7" />
<text x="275.50" y="487.80" font-size="13.4" text-anchor="middle" fill="#1e1e1e" >0</text>
<line x1="304.70" y1="472.40" x2="304.70" y2="475.10" stroke="#111" stroke-width="1.7" />
<text x="304.10" y="487.80" font-size="13.4" text-anchor="middle" fill="#1e1e1e" >2000</text>
<line x1="363.10" y1="472.40" x2="363.10" y2="475.10" stroke="#111" stroke-width="1.7" />
<text x="363.10" y="487.80" font-size="13.4" text-anchor="middle" fill="#1e1e1e" >6000</text>
<line x1="421.50" y1="472.40" x2="421.50" y2="475.10" stroke="#111" stroke-width="1.7" />
<text x="420.70" y="487.80" font-size="13.4" text-anchor="middle" fill="#1e1e1e" >10000</text>
<text x="358.90" y="504.00" font-size="14.5" text-anchor="middle" fill="#1e1e1e" >Sorbitol (µg/mL)</text>
<text x="0" y="0" font-size="14" text-anchor="middle" fill="#1e1e1e" transform="translate(230.10,422.00) rotate(-90)">Bq/mg</text>
<line x1="275.40" y1="410.40" x2="275.40" y2="417.40" stroke="#62b256" stroke-width="1.0" />
<line x1="272.80" y1="410.40" x2="278.00" y2="410.40" stroke="#62b256" stroke-width="1.0" />
<line x1="280.40" y1="379.70" x2="280.40" y2="391.10" stroke="#62b256" stroke-width="1.0" />
<line x1="277.80" y1="379.70" x2="283.00" y2="379.70" stroke="#62b256" stroke-width="1.0" />
<line x1="280.40" y1="404.50" x2="280.40" y2="391.10" stroke="#62b256" stroke-width="1.0" />
<line x1="277.80" y1="404.50" x2="283.00" y2="404.50" stroke="#62b256" stroke-width="1.0" />
<line x1="286.20" y1="399.70" x2="286.20" y2="409.30" stroke="#62b256" stroke-width="1.0" />
<line x1="283.60" y1="399.70" x2="288.80" y2="399.70" stroke="#62b256" stroke-width="1.0" />
<line x1="286.20" y1="421.00" x2="286.20" y2="409.30" stroke="#62b256" stroke-width="1.0" />
<line x1="283.60" y1="421.00" x2="288.80" y2="421.00" stroke="#62b256" stroke-width="1.0" />
<line x1="296.00" y1="433.70" x2="296.00" y2="418.70" stroke="#62b256" stroke-width="1.0" />
<line x1="293.40" y1="433.70" x2="298.60" y2="433.70" stroke="#62b256" stroke-width="1.0" />
<line x1="304.50" y1="428.50" x2="304.50" y2="432.00" stroke="#62b256" stroke-width="1.0" />
<line x1="301.90" y1="428.50" x2="307.10" y2="428.50" stroke="#62b256" stroke-width="1.0" />
<line x1="304.50" y1="442.20" x2="304.50" y2="432.00" stroke="#62b256" stroke-width="1.0" />
<line x1="301.90" y1="442.20" x2="307.10" y2="442.20" stroke="#62b256" stroke-width="1.0" />
<line x1="363.20" y1="446.10" x2="363.20" y2="450.40" stroke="#62b256" stroke-width="1.0" />
<line x1="360.60" y1="446.10" x2="365.80" y2="446.10" stroke="#62b256" stroke-width="1.0" />
<line x1="363.20" y1="459.00" x2="363.20" y2="450.40" stroke="#62b256" stroke-width="1.0" />
<line x1="360.60" y1="459.00" x2="365.80" y2="459.00" stroke="#62b256" stroke-width="1.0" />
<line x1="421.50" y1="463.60" x2="421.50" y2="468.10" stroke="#62b256" stroke-width="1.0" />
<line x1="418.90" y1="463.60" x2="424.10" y2="463.60" stroke="#62b256" stroke-width="1.0" />
<polyline points="275.40,417.40 280.40,391.10 286.20,409.30 296.00,418.70 304.50,432.00 363.20,450.40 421.50,468.10" fill="none" stroke="#2c9720" stroke-width="1.0" />
<circle cx="275.40" cy="417.40" r="2.45" fill="#2c9720"/>
<circle cx="280.40" cy="391.10" r="2.45" fill="#2c9720"/>
<circle cx="286.20" cy="409.30" r="2.45" fill="#2c9720"/>
<circle cx="296.00" cy="418.70" r="2.45" fill="#2c9720"/>
<circle cx="304.50" cy="432.00" r="2.45" fill="#2c9720"/>
<circle cx="363.20" cy="450.40" r="2.45" fill="#2c9720"/>
<circle cx="421.50" cy="468.10" r="2.45" fill="#2c9720"/>
<text x="435.60" y="366.00" font-size="19" text-anchor="start" fill="#1e1e1e" >g</text>
<line x1="490.30" y1="371.36" x2="490.30" y2="473.35" stroke="#111" stroke-width="1.7" />
<line x1="485.80" y1="372.21" x2="490.30" y2="372.21" stroke="#111" stroke-width="1.7" />
<text x="486.00" y="377.29" font-size="14.2" text-anchor="end" fill="#1e1e1e" >3000</text>
<line x1="485.80" y1="405.64" x2="490.30" y2="405.64" stroke="#111" stroke-width="1.7" />
<text x="486.00" y="410.72" font-size="14.2" text-anchor="end" fill="#1e1e1e" >2000</text>
<line x1="485.80" y1="439.07" x2="490.30" y2="439.07" stroke="#111" stroke-width="1.7" />
<text x="486.00" y="444.15" font-size="14.2" text-anchor="end" fill="#1e1e1e" >1000</text>
<line x1="485.80" y1="472.50" x2="490.30" y2="472.50" stroke="#111" stroke-width="1.7" />
<text x="486.00" y="477.58" font-size="14.2" text-anchor="end" fill="#1e1e1e" >0</text>
<line x1="489.45" y1="472.50" x2="641.05" y2="472.50" stroke="#111" stroke-width="1.7" />
<line x1="490.30" y1="472.50" x2="490.30" y2="476.70" stroke="#111" stroke-width="1.7" />
<text x="490.30" y="489.40" font-size="13.4" text-anchor="middle" fill="#1e1e1e" >0</text>
<line x1="520.28" y1="472.50" x2="520.28" y2="476.70" stroke="#111" stroke-width="1.7" />
<text x="519.48" y="489.40" font-size="13.4" text-anchor="middle" fill="#1e1e1e" >2000</text>
<line x1="580.24" y1="472.50" x2="580.24" y2="476.70" stroke="#111" stroke-width="1.7" />
<text x="579.94" y="489.40" font-size="13.4" text-anchor="middle" fill="#1e1e1e" >6000</text>
<line x1="640.20" y1="472.50" x2="640.20" y2="476.70" stroke="#111" stroke-width="1.7" />
<text x="637.00" y="489.40" font-size="13.4" text-anchor="middle" fill="#1e1e1e" >10000</text>
<line x1="550.26" y1="472.50" x2="550.26" y2="474.50" stroke="#111" stroke-width="1.7" />
<line x1="610.22" y1="472.50" x2="610.22" y2="474.50" stroke="#111" stroke-width="1.7" />
<text x="573.25" y="505.20" font-size="14.5" text-anchor="middle" fill="#1e1e1e" >Sorbitol (µg/mL)</text>
<text x="0" y="0" font-size="14" text-anchor="middle" fill="#1e1e1e" transform="translate(444.20,421.00) rotate(-90)">Bq/mg</text>
<line x1="491.60" y1="386.40" x2="491.60" y2="408.00" stroke="#2200ff" stroke-width="1.0" />
<line x1="489.00" y1="386.40" x2="494.20" y2="386.40" stroke="#2200ff" stroke-width="1.0" />
<line x1="491.60" y1="420.40" x2="491.60" y2="408.00" stroke="#2200ff" stroke-width="1.0" />
<line x1="489.00" y1="420.40" x2="494.20" y2="420.40" stroke="#2200ff" stroke-width="1.0" />
<line x1="495.70" y1="398.80" x2="495.70" y2="381.30" stroke="#2200ff" stroke-width="1.0" />
<line x1="493.10" y1="398.80" x2="498.30" y2="398.80" stroke="#2200ff" stroke-width="1.0" />
<line x1="501.80" y1="412.80" x2="501.80" y2="418.70" stroke="#2200ff" stroke-width="1.0" />
<line x1="499.20" y1="412.80" x2="504.40" y2="412.80" stroke="#2200ff" stroke-width="1.0" />
<line x1="501.80" y1="425.30" x2="501.80" y2="418.70" stroke="#2200ff" stroke-width="1.0" />
<line x1="499.20" y1="425.30" x2="504.40" y2="425.30" stroke="#2200ff" stroke-width="1.0" />
<line x1="511.60" y1="430.40" x2="511.60" y2="442.80" stroke="#2200ff" stroke-width="1.0" />
<line x1="509.00" y1="430.40" x2="514.20" y2="430.40" stroke="#2200ff" stroke-width="1.0" />
<line x1="511.60" y1="454.30" x2="511.60" y2="442.80" stroke="#2200ff" stroke-width="1.0" />
<line x1="509.00" y1="454.30" x2="514.20" y2="454.30" stroke="#2200ff" stroke-width="1.0" />
<line x1="520.40" y1="425.80" x2="520.40" y2="449.60" stroke="#2200ff" stroke-width="1.0" />
<line x1="517.80" y1="425.80" x2="523.00" y2="425.80" stroke="#2200ff" stroke-width="1.0" />
<line x1="520.40" y1="456.20" x2="520.40" y2="449.60" stroke="#2200ff" stroke-width="1.0" />
<line x1="517.80" y1="456.20" x2="523.00" y2="456.20" stroke="#2200ff" stroke-width="1.0" />
<line x1="580.10" y1="452.60" x2="580.10" y2="456.60" stroke="#2200ff" stroke-width="1.0" />
<line x1="577.50" y1="452.60" x2="582.70" y2="452.60" stroke="#2200ff" stroke-width="1.0" />
<polyline points="490.20,408.00 492.20,412.40 495.70,381.30 501.80,418.70 511.60,442.80 520.40,449.60 580.10,456.60 640.00,470.10" fill="none" stroke="#2200ff" stroke-width="1.0" />
<circle cx="490.20" cy="408.00" r="2.45" fill="#2200ff"/>
<circle cx="492.20" cy="412.40" r="2.45" fill="#2200ff"/>
<circle cx="495.70" cy="381.30" r="2.45" fill="#2200ff"/>
<circle cx="501.80" cy="418.70" r="2.45" fill="#2200ff"/>
<circle cx="511.60" cy="442.80" r="2.45" fill="#2200ff"/>
<circle cx="520.40" cy="449.60" r="2.45" fill="#2200ff"/>
<circle cx="580.10" cy="456.60" r="2.45" fill="#2200ff"/>
<circle cx="640.00" cy="470.10" r="2.45" fill="#2200ff"/>
<text x="4.70" y="523.10" font-size="17" text-anchor="start" fill="#1e1e1e" >h</text>
<line x1="55.40" y1="531.35" x2="55.40" y2="562.95" stroke="#111" stroke-width="1.7" />
<line x1="51.80" y1="532.20" x2="55.40" y2="532.20" stroke="#111" stroke-width="1.7" />
<line x1="51.80" y1="562.10" x2="55.40" y2="562.10" stroke="#111" stroke-width="1.7" />
<line x1="55.40" y1="574.85" x2="55.40" y2="666.90" stroke="#111" stroke-width="1.7" />
<line x1="51.80" y1="575.70" x2="55.40" y2="575.70" stroke="#111" stroke-width="1.7" />
<line x1="51.80" y1="621.30" x2="55.40" y2="621.30" stroke="#111" stroke-width="1.7" />
<line x1="51.30" y1="666.90" x2="685.00" y2="666.90" stroke="#111" stroke-width="1.7" />
<text x="47.60" y="537.03" font-size="13.6" text-anchor="end" fill="#1e1e1e" >8000</text>
<text x="47.60" y="564.43" font-size="13.6" text-anchor="end" fill="#1e1e1e" >4000</text>
<text x="47.60" y="581.13" font-size="13.6" text-anchor="end" fill="#1e1e1e" >4000</text>
<text x="47.60" y="626.13" font-size="13.6" text-anchor="end" fill="#1e1e1e" >2000</text>
<text x="47.60" y="671.73" font-size="13.6" text-anchor="end" fill="#1e1e1e" >0</text>
<text x="0" y="0" font-size="15.2" text-anchor="middle" fill="#1e1e1e" transform="translate(11.30,615.20) rotate(-90)">Bq/mg</text>
<line x1="67.75" y1="666.90" x2="67.75" y2="670.70" stroke="#111" stroke-width="1.7" />
<line x1="87.40" y1="666.90" x2="87.40" y2="670.70" stroke="#111" stroke-width="1.7" />
<line x1="107.00" y1="666.90" x2="107.00" y2="670.70" stroke="#111" stroke-width="1.7" />
<line x1="126.60" y1="666.90" x2="126.60" y2="670.70" stroke="#111" stroke-width="1.7" />
<line x1="146.10" y1="666.90" x2="146.10" y2="670.70" stroke="#111" stroke-width="1.7" />
<line x1="165.50" y1="666.90" x2="165.50" y2="670.70" stroke="#111" stroke-width="1.7" />
<line x1="185.20" y1="666.90" x2="185.20" y2="670.70" stroke="#111" stroke-width="1.7" />
<line x1="204.80" y1="666.90" x2="204.80" y2="670.70" stroke="#111" stroke-width="1.7" />
<line x1="224.50" y1="666.90" x2="224.50" y2="670.70" stroke="#111" stroke-width="1.7" />
<line x1="243.00" y1="666.90" x2="243.00" y2="670.70" stroke="#111" stroke-width="1.7" />
<line x1="262.60" y1="666.90" x2="262.60" y2="670.70" stroke="#111" stroke-width="1.7" />
<line x1="282.90" y1="666.90" x2="282.90" y2="670.70" stroke="#111" stroke-width="1.7" />
<line x1="303.20" y1="666.90" x2="303.20" y2="670.70" stroke="#111" stroke-width="1.7" />
<line x1="323.70" y1="666.90" x2="323.70" y2="670.70" stroke="#111" stroke-width="1.7" />
<line x1="344.00" y1="666.90" x2="344.00" y2="670.70" stroke="#111" stroke-width="1.7" />
<line x1="364.50" y1="666.90" x2="364.50" y2="670.70" stroke="#111" stroke-width="1.7" />
<line x1="384.80" y1="666.90" x2="384.80" y2="670.70" stroke="#111" stroke-width="1.7" />
<line x1="405.30" y1="666.90" x2="405.30" y2="670.70" stroke="#111" stroke-width="1.7" />
<line x1="426.40" y1="666.90" x2="426.40" y2="670.70" stroke="#111" stroke-width="1.7" />
<line x1="447.00" y1="666.90" x2="447.00" y2="670.70" stroke="#111" stroke-width="1.7" />
<line x1="467.20" y1="666.90" x2="467.20" y2="670.70" stroke="#111" stroke-width="1.7" />
<line x1="487.70" y1="666.90" x2="487.70" y2="670.70" stroke="#111" stroke-width="1.7" />
<line x1="508.00" y1="666.90" x2="508.00" y2="670.70" stroke="#111" stroke-width="1.7" />
<line x1="528.50" y1="666.90" x2="528.50" y2="670.70" stroke="#111" stroke-width="1.7" />
<line x1="548.60" y1="666.90" x2="548.60" y2="670.70" stroke="#111" stroke-width="1.7" />
<line x1="569.10" y1="666.90" x2="569.10" y2="670.70" stroke="#111" stroke-width="1.7" />
<line x1="590.40" y1="666.90" x2="590.40" y2="670.70" stroke="#111" stroke-width="1.7" />
<line x1="611.10" y1="666.90" x2="611.10" y2="670.70" stroke="#111" stroke-width="1.7" />
<line x1="630.80" y1="666.90" x2="630.80" y2="670.70" stroke="#111" stroke-width="1.7" />
<line x1="650.90" y1="666.90" x2="650.90" y2="670.70" stroke="#111" stroke-width="1.7" />
<line x1="670.60" y1="666.90" x2="670.60" y2="670.70" stroke="#111" stroke-width="1.7" />
<path d="M61.75,666.90 L61.75,621.60 L73.75,621.60 L73.75,666.90" fill="#f28d98" stroke="#ff1708" stroke-width="2.0"/>
<path d="M81.40,666.90 L81.40,629.00 L93.40,629.00 L93.40,666.90" fill="#fff" stroke="#ff1708" stroke-width="2.0"/>
<path d="M101.00,666.90 L101.00,626.60 L113.00,626.60 L113.00,666.90" fill="#fff" stroke="#ff1708" stroke-width="2.0"/>
<path d="M120.60,666.90 L120.60,618.40 L132.60,618.40 L132.60,666.90" fill="#fff" stroke="#ff1708" stroke-width="2.0"/>
<path d="M140.10,666.90 L140.10,622.00 L152.10,622.00 L152.10,666.90" fill="#fff" stroke="#ff1708" stroke-width="2.0"/>
<path d="M159.50,666.90 L159.50,615.20 L171.50,615.20 L171.50,666.90" fill="#fff" stroke="#ff1708" stroke-width="2.0"/>
<path d="M179.20,666.90 L179.20,581.40 L191.20,581.40 L191.20,666.90" fill="#fff" stroke="#ff1708" stroke-width="2.0"/>
<path d="M198.80,666.90 L198.80,643.00 L210.80,643.00 L210.80,666.90" fill="#fff" stroke="#ff1708" stroke-width="2.0"/>
<path d="M218.50,666.90 L218.50,644.10 L230.50,644.10 L230.50,666.90" fill="#fff" stroke="#ff1708" stroke-width="2.0"/>
<path d="M237.00,666.90 L237.00,648.20 L249.00,648.20 L249.00,666.90" fill="#fff" stroke="#ff1708" stroke-width="2.0"/>
<path d="M257.10,666.90 L257.10,638.90 L269.10,638.90 L269.10,666.90" fill="#fff" stroke="#268212" stroke-width="2.0"/>
<path d="M277.20,666.90 L277.20,621.10 L289.20,621.10 L289.20,666.90" fill="#fff" stroke="#268212" stroke-width="2.0"/>
<path d="M298.40,666.90 L298.40,639.80 L310.40,639.80 L310.40,666.90" fill="#fff" stroke="#268212" stroke-width="2.0"/>
<path d="M318.50,666.90 L318.50,641.50 L330.50,641.50 L330.50,666.90" fill="#fff" stroke="#268212" stroke-width="2.0"/>
<path d="M339.50,666.90 L339.50,647.10 L351.50,647.10 L351.50,666.90" fill="#fff" stroke="#268212" stroke-width="2.0"/>
<path d="M359.70,666.90 L359.70,645.90 L371.70,645.90 L371.70,666.90" fill="#fff" stroke="#268212" stroke-width="2.0"/>
<path d="M380.40,666.90 L380.40,620.80 L392.40,620.80 L392.40,666.90" fill="#fff" stroke="#268212" stroke-width="2.0"/>
<path d="M400.40,666.90 L400.40,630.10 L412.40,630.10 L412.40,666.90" fill="#fff" stroke="#268212" stroke-width="2.0"/>
<path d="M421.20,666.90 L421.20,617.60 L433.20,617.60 L433.20,666.90" fill="#fff" stroke="#2200ff" stroke-width="2.0"/>
<path d="M441.60,666.90 L441.60,599.20 L453.60,599.20 L453.60,666.90" fill="#fff" stroke="#2200ff" stroke-width="2.0"/>
<path d="M461.80,666.90 L461.80,614.40 L473.80,614.40 L473.80,666.90" fill="#fff" stroke="#2200ff" stroke-width="2.0"/>
<path d="M481.90,666.90 L481.90,624.50 L493.90,624.50 L493.90,666.90" fill="#fff" stroke="#2200ff" stroke-width="2.0"/>
<path d="M502.00,666.90 L502.00,608.20 L514.00,608.20 L514.00,666.90" fill="#fff" stroke="#2200ff" stroke-width="2.0"/>
<path d="M522.20,666.90 L522.20,618.00 L534.20,618.00 L534.20,666.90" fill="#fff" stroke="#2200ff" stroke-width="2.0"/>
<path d="M542.20,666.90 L542.20,609.70 L554.20,609.70 L554.20,666.90" fill="#fff" stroke="#2200ff" stroke-width="2.0"/>
<path d="M562.70,666.90 L562.70,613.60 L574.70,613.60 L574.70,666.90" fill="#fff" stroke="#2200ff" stroke-width="2.0"/>
<path d="M584.30,666.90 L584.30,612.85 L596.50,612.85 L596.50,666.90" fill="#a3a3a3" stroke="#000" stroke-width="2.5"/>
<path d="M605.00,666.90 L605.00,628.85 L617.20,628.85 L617.20,666.90" fill="#a3a3a3" stroke="#000" stroke-width="2.5"/>
<path d="M624.70,666.90 L624.70,636.35 L636.90,636.35 L636.90,666.90" fill="#a3a3a3" stroke="#000" stroke-width="2.5"/>
<rect x="644.80" y="550.45" width="12.20" height="12.45" fill="#a3a3a3"/>
<path d="M644.80,562.90 L644.80,550.45 L657.00,550.45 L657.00,562.90" fill="none" stroke="#000" stroke-width="2.5"/>
<rect x="644.80" y="574.50" width="12.20" height="92.40" fill="#a3a3a3"/>
<line x1="644.80" y1="574.50" x2="644.80" y2="666.90" stroke="#000" stroke-width="2.5" />
<line x1="657.00" y1="574.50" x2="657.00" y2="666.90" stroke="#000" stroke-width="2.5" />
<path d="M664.50,666.90 L664.50,648.65 L676.70,648.65 L676.70,666.90" fill="#a3a3a3" stroke="#000" stroke-width="2.5"/>
<line x1="67.60" y1="614.50" x2="67.60" y2="636.70" stroke="#2a2a2a" stroke-width="1.25" />
<line x1="64.40" y1="614.50" x2="70.80" y2="614.50" stroke="#2a2a2a" stroke-width="1.25" />
<line x1="64.40" y1="636.70" x2="70.80" y2="636.70" stroke="#2a2a2a" stroke-width="1.25" />
<line x1="87.60" y1="620.40" x2="87.60" y2="645.10" stroke="#2a2a2a" stroke-width="1.25" />
<line x1="84.40" y1="620.40" x2="90.80" y2="620.40" stroke="#2a2a2a" stroke-width="1.25" />
<line x1="84.40" y1="645.10" x2="90.80" y2="645.10" stroke="#2a2a2a" stroke-width="1.25" />
<line x1="107.00" y1="616.30" x2="107.00" y2="629.10" stroke="#2a2a2a" stroke-width="1.25" />
<line x1="103.80" y1="616.30" x2="110.20" y2="616.30" stroke="#2a2a2a" stroke-width="1.25" />
<line x1="103.80" y1="629.10" x2="110.20" y2="629.10" stroke="#2a2a2a" stroke-width="1.25" />
<line x1="126.50" y1="610.30" x2="126.50" y2="624.00" stroke="#2a2a2a" stroke-width="1.25" />
<line x1="123.30" y1="610.30" x2="129.70" y2="610.30" stroke="#2a2a2a" stroke-width="1.25" />
<line x1="123.30" y1="624.00" x2="129.70" y2="624.00" stroke="#2a2a2a" stroke-width="1.25" />
<line x1="146.70" y1="611.80" x2="146.70" y2="632.00" stroke="#2a2a2a" stroke-width="1.25" />
<line x1="143.50" y1="611.80" x2="149.90" y2="611.80" stroke="#2a2a2a" stroke-width="1.25" />
<line x1="143.50" y1="632.00" x2="149.90" y2="632.00" stroke="#2a2a2a" stroke-width="1.25" />
<line x1="166.30" y1="614.00" x2="166.30" y2="619.50" stroke="#2a2a2a" stroke-width="1.25" />
<line x1="163.10" y1="614.00" x2="169.50" y2="614.00" stroke="#2a2a2a" stroke-width="1.25" />
<line x1="163.10" y1="619.50" x2="169.50" y2="619.50" stroke="#2a2a2a" stroke-width="1.25" />
<line x1="185.50" y1="577.00" x2="185.50" y2="587.70" stroke="#2a2a2a" stroke-width="1.25" />
<line x1="182.30" y1="587.70" x2="188.70" y2="587.70" stroke="#2a2a2a" stroke-width="1.25" />
<line x1="185.50" y1="556.70" x2="185.50" y2="562.60" stroke="#2a2a2a" stroke-width="1.25" />
<line x1="182.30" y1="556.70" x2="188.70" y2="556.70" stroke="#2a2a2a" stroke-width="1.25" />
<line x1="205.10" y1="634.40" x2="205.10" y2="646.00" stroke="#2a2a2a" stroke-width="1.25" />
<line x1="201.90" y1="634.40" x2="208.30" y2="634.40" stroke="#2a2a2a" stroke-width="1.25" />
<line x1="201.90" y1="646.00" x2="208.30" y2="646.00" stroke="#2a2a2a" stroke-width="1.25" />
<line x1="224.40" y1="635.90" x2="224.40" y2="646.30" stroke="#2a2a2a" stroke-width="1.25" />
<line x1="221.20" y1="635.90" x2="227.60" y2="635.90" stroke="#2a2a2a" stroke-width="1.25" />
<line x1="221.20" y1="646.30" x2="227.60" y2="646.30" stroke="#2a2a2a" stroke-width="1.25" />
<line x1="243.30" y1="602.60" x2="243.30" y2="658.30" stroke="#2a2a2a" stroke-width="1.25" />
<line x1="240.10" y1="602.60" x2="246.50" y2="602.60" stroke="#2a2a2a" stroke-width="1.25" />
<line x1="240.10" y1="658.30" x2="246.50" y2="658.30" stroke="#2a2a2a" stroke-width="1.25" />
<line x1="263.10" y1="626.20" x2="263.10" y2="645.00" stroke="#2a2a2a" stroke-width="1.25" />
<line x1="259.90" y1="626.20" x2="266.30" y2="626.20" stroke="#2a2a2a" stroke-width="1.25" />
<line x1="259.90" y1="645.00" x2="266.30" y2="645.00" stroke="#2a2a2a" stroke-width="1.25" />
<line x1="283.20" y1="599.30" x2="283.20" y2="632.30" stroke="#2a2a2a" stroke-width="1.25" />
<line x1="280.00" y1="599.30" x2="286.40" y2="599.30" stroke="#2a2a2a" stroke-width="1.25" />
<line x1="280.00" y1="632.30" x2="286.40" y2="632.30" stroke="#2a2a2a" stroke-width="1.25" />
<line x1="304.40" y1="636.10" x2="304.40" y2="642.30" stroke="#2a2a2a" stroke-width="1.25" />
<line x1="301.20" y1="636.10" x2="307.60" y2="636.10" stroke="#2a2a2a" stroke-width="1.25" />
<line x1="301.20" y1="642.30" x2="307.60" y2="642.30" stroke="#2a2a2a" stroke-width="1.25" />
<line x1="324.50" y1="623.30" x2="324.50" y2="642.60" stroke="#2a2a2a" stroke-width="1.25" />
<line x1="321.30" y1="623.30" x2="327.70" y2="623.30" stroke="#2a2a2a" stroke-width="1.25" />
<line x1="321.30" y1="642.60" x2="327.70" y2="642.60" stroke="#2a2a2a" stroke-width="1.25" />
<line x1="345.50" y1="630.30" x2="345.50" y2="647.20" stroke="#2a2a2a" stroke-width="1.25" />
<line x1="342.30" y1="630.30" x2="348.70" y2="630.30" stroke="#2a2a2a" stroke-width="1.25" />
<line x1="342.30" y1="647.20" x2="348.70" y2="647.20" stroke="#2a2a2a" stroke-width="1.25" />
<line x1="365.70" y1="638.10" x2="365.70" y2="647.80" stroke="#2a2a2a" stroke-width="1.25" />
<line x1="362.50" y1="638.10" x2="368.90" y2="638.10" stroke="#2a2a2a" stroke-width="1.25" />
<line x1="362.50" y1="647.80" x2="368.90" y2="647.80" stroke="#2a2a2a" stroke-width="1.25" />
<line x1="386.40" y1="620.60" x2="386.40" y2="625.60" stroke="#2a2a2a" stroke-width="1.25" />
<line x1="383.20" y1="620.60" x2="389.60" y2="620.60" stroke="#2a2a2a" stroke-width="1.25" />
<line x1="383.20" y1="625.60" x2="389.60" y2="625.60" stroke="#2a2a2a" stroke-width="1.25" />
<line x1="406.40" y1="624.50" x2="406.40" y2="633.20" stroke="#2a2a2a" stroke-width="1.25" />
<line x1="403.20" y1="624.50" x2="409.60" y2="624.50" stroke="#2a2a2a" stroke-width="1.25" />
<line x1="403.20" y1="633.20" x2="409.60" y2="633.20" stroke="#2a2a2a" stroke-width="1.25" />
<line x1="427.20" y1="609.60" x2="427.20" y2="624.80" stroke="#2a2a2a" stroke-width="1.25" />
<line x1="424.00" y1="609.60" x2="430.40" y2="609.60" stroke="#2a2a2a" stroke-width="1.25" />
<line x1="424.00" y1="624.80" x2="430.40" y2="624.80" stroke="#2a2a2a" stroke-width="1.25" />
<line x1="447.60" y1="592.50" x2="447.60" y2="614.20" stroke="#2a2a2a" stroke-width="1.25" />
<line x1="444.40" y1="592.50" x2="450.80" y2="592.50" stroke="#2a2a2a" stroke-width="1.25" />
<line x1="444.40" y1="614.20" x2="450.80" y2="614.20" stroke="#2a2a2a" stroke-width="1.25" />
<line x1="467.80" y1="604.40" x2="467.80" y2="625.20" stroke="#2a2a2a" stroke-width="1.25" />
<line x1="464.60" y1="604.40" x2="471.00" y2="604.40" stroke="#2a2a2a" stroke-width="1.25" />
<line x1="464.60" y1="625.20" x2="471.00" y2="625.20" stroke="#2a2a2a" stroke-width="1.25" />
<line x1="487.90" y1="607.20" x2="487.90" y2="630.00" stroke="#2a2a2a" stroke-width="1.25" />
<line x1="484.70" y1="607.20" x2="491.10" y2="607.20" stroke="#2a2a2a" stroke-width="1.25" />
<line x1="484.70" y1="630.00" x2="491.10" y2="630.00" stroke="#2a2a2a" stroke-width="1.25" />
<line x1="508.00" y1="586.50" x2="508.00" y2="626.50" stroke="#2a2a2a" stroke-width="1.25" />
<line x1="504.80" y1="586.50" x2="511.20" y2="586.50" stroke="#2a2a2a" stroke-width="1.25" />
<line x1="504.80" y1="626.50" x2="511.20" y2="626.50" stroke="#2a2a2a" stroke-width="1.25" />
<line x1="528.20" y1="608.20" x2="528.20" y2="624.40" stroke="#2a2a2a" stroke-width="1.25" />
<line x1="525.00" y1="608.20" x2="531.40" y2="608.20" stroke="#2a2a2a" stroke-width="1.25" />
<line x1="525.00" y1="624.40" x2="531.40" y2="624.40" stroke="#2a2a2a" stroke-width="1.25" />
<line x1="548.20" y1="586.40" x2="548.20" y2="627.70" stroke="#2a2a2a" stroke-width="1.25" />
<line x1="545.00" y1="586.40" x2="551.40" y2="586.40" stroke="#2a2a2a" stroke-width="1.25" />
<line x1="545.00" y1="627.70" x2="551.40" y2="627.70" stroke="#2a2a2a" stroke-width="1.25" />
<line x1="568.70" y1="598.50" x2="568.70" y2="619.90" stroke="#2a2a2a" stroke-width="1.25" />
<line x1="565.50" y1="598.50" x2="571.90" y2="598.50" stroke="#2a2a2a" stroke-width="1.25" />
<line x1="565.50" y1="619.90" x2="571.90" y2="619.90" stroke="#2a2a2a" stroke-width="1.25" />
<line x1="590.30" y1="609.40" x2="590.30" y2="627.40" stroke="#555" stroke-width="1.1" />
<line x1="587.10" y1="609.40" x2="593.50" y2="609.40" stroke="#555" stroke-width="1.1" />
<line x1="587.10" y1="627.40" x2="593.50" y2="627.40" stroke="#555" stroke-width="1.1" />
<line x1="610.30" y1="621.30" x2="610.30" y2="639.80" stroke="#555" stroke-width="1.1" />
<line x1="607.10" y1="621.30" x2="613.50" y2="621.30" stroke="#555" stroke-width="1.1" />
<line x1="607.10" y1="639.80" x2="613.50" y2="639.80" stroke="#555" stroke-width="1.1" />
<line x1="630.70" y1="615.80" x2="630.70" y2="641.90" stroke="#555" stroke-width="1.1" />
<line x1="627.50" y1="615.80" x2="633.90" y2="615.80" stroke="#555" stroke-width="1.1" />
<line x1="627.50" y1="641.90" x2="633.90" y2="641.90" stroke="#555" stroke-width="1.1" />
<line x1="650.90" y1="538.20" x2="650.90" y2="549.20" stroke="#555" stroke-width="1.1" />
<line x1="647.70" y1="538.20" x2="654.10" y2="538.20" stroke="#555" stroke-width="1.1" />
<line x1="647.70" y1="549.20" x2="654.10" y2="549.20" stroke="#555" stroke-width="1.1" />
<line x1="671.00" y1="625.00" x2="671.00" y2="651.40" stroke="#555" stroke-width="1.1" />
<line x1="667.80" y1="625.00" x2="674.20" y2="625.00" stroke="#555" stroke-width="1.1" />
<line x1="667.80" y1="651.40" x2="674.20" y2="651.40" stroke="#555" stroke-width="1.1" />
<circle cx="62.20" cy="614.80" r="1.95" fill="#ff1708"/>
<circle cx="67.60" cy="614.80" r="1.95" fill="#ff1708"/>
<circle cx="72.80" cy="614.80" r="1.95" fill="#ff1708"/>
<circle cx="67.60" cy="624.80" r="1.95" fill="#ff1708"/>
<circle cx="65.30" cy="637.90" r="1.95" fill="#ff1708"/>
<circle cx="70.20" cy="636.10" r="1.95" fill="#ff1708"/>
<circle cx="87.70" cy="615.70" r="1.95" fill="#ff1708"/>
<circle cx="91.20" cy="624.80" r="1.95" fill="#ff1708"/>
<circle cx="84.20" cy="627.40" r="1.95" fill="#ff1708"/>
<circle cx="87.70" cy="638.80" r="1.95" fill="#ff1708"/>
<circle cx="87.70" cy="652.70" r="1.95" fill="#ff1708"/>
<circle cx="103.50" cy="615.90" r="1.95" fill="#ff1708"/>
<circle cx="110.50" cy="616.60" r="1.95" fill="#ff1708"/>
<circle cx="110.50" cy="623.60" r="1.95" fill="#ff1708"/>
<circle cx="103.50" cy="626.40" r="1.95" fill="#ff1708"/>
<circle cx="107.00" cy="635.90" r="1.95" fill="#ff1708"/>
<circle cx="121.30" cy="609.90" r="1.95" fill="#ff1708"/>
<circle cx="131.50" cy="610.80" r="1.95" fill="#ff1708"/>
<circle cx="126.50" cy="612.20" r="1.95" fill="#ff1708"/>
<circle cx="124.10" cy="621.80" r="1.95" fill="#ff1708"/>
<circle cx="128.80" cy="621.80" r="1.95" fill="#ff1708"/>
<circle cx="126.50" cy="630.30" r="1.95" fill="#ff1708"/>
<circle cx="146.70" cy="599.30" r="1.95" fill="#ff1708"/>
<circle cx="146.70" cy="615.90" r="1.95" fill="#ff1708"/>
<circle cx="142.90" cy="621.30" r="1.95" fill="#ff1708"/>
<circle cx="150.50" cy="620.60" r="1.95" fill="#ff1708"/>
<circle cx="146.70" cy="629.50" r="1.95" fill="#ff1708"/>
<circle cx="146.70" cy="640.00" r="1.95" fill="#ff1708"/>
<circle cx="160.90" cy="614.20" r="1.95" fill="#ff1708"/>
<circle cx="164.20" cy="614.20" r="1.95" fill="#ff1708"/>
<circle cx="168.30" cy="614.20" r="1.95" fill="#ff1708"/>
<circle cx="171.80" cy="614.20" r="1.95" fill="#ff1708"/>
<circle cx="164.80" cy="620.10" r="1.95" fill="#ff1708"/>
<circle cx="168.30" cy="620.10" r="1.95" fill="#ff1708"/>
<circle cx="181.90" cy="585.50" r="1.95" fill="#ff1708"/>
<circle cx="189.20" cy="585.50" r="1.95" fill="#ff1708"/>
<circle cx="185.50" cy="589.90" r="1.95" fill="#ff1708"/>
<circle cx="181.90" cy="556.70" r="1.95" fill="#ff1708"/>
<circle cx="188.90" cy="556.70" r="1.95" fill="#ff1708"/>
<circle cx="185.50" cy="565.50" r="1.95" fill="#ff1708"/>
<circle cx="205.10" cy="622.10" r="1.95" fill="#ff1708"/>
<circle cx="210.30" cy="637.90" r="1.95" fill="#ff1708"/>
<circle cx="199.80" cy="640.20" r="1.95" fill="#ff1708"/>
<circle cx="199.80" cy="644.30" r="1.95" fill="#ff1708"/>
<circle cx="205.10" cy="641.20" r="1.95" fill="#ff1708"/>
<circle cx="210.70" cy="642.00" r="1.95" fill="#ff1708"/>
<circle cx="224.40" cy="635.50" r="1.95" fill="#ff1708"/>
<circle cx="224.40" cy="641.00" r="1.95" fill="#ff1708"/>
<circle cx="224.40" cy="646.00" r="1.95" fill="#ff1708"/>
<circle cx="243.30" cy="602.60" r="1.95" fill="#ff1708"/>
<circle cx="243.30" cy="644.90" r="1.95" fill="#ff1708"/>
<circle cx="243.30" cy="658.30" r="1.95" fill="#ff1708"/>
<circle cx="263.10" cy="626.20" r="1.95" fill="#268212"/>
<circle cx="259.60" cy="640.00" r="1.95" fill="#268212"/>
<circle cx="266.60" cy="640.00" r="1.95" fill="#268212"/>
<circle cx="283.20" cy="590.90" r="1.95" fill="#268212"/>
<circle cx="283.20" cy="602.30" r="1.95" fill="#268212"/>
<circle cx="283.20" cy="615.10" r="1.95" fill="#268212"/>
<circle cx="283.20" cy="624.50" r="1.95" fill="#268212"/>
<circle cx="283.20" cy="630.60" r="1.95" fill="#268212"/>
<circle cx="283.20" cy="639.30" r="1.95" fill="#268212"/>
<circle cx="299.30" cy="638.10" r="1.95" fill="#268212"/>
<circle cx="304.40" cy="636.50" r="1.95" fill="#268212"/>
<circle cx="309.30" cy="635.80" r="1.95" fill="#268212"/>
<circle cx="304.40" cy="647.00" r="1.95" fill="#268212"/>
<circle cx="304.60" cy="640.80" r="1.95" fill="#268212"/>
<circle cx="324.50" cy="607.80" r="1.95" fill="#268212"/>
<circle cx="324.50" cy="628.30" r="1.95" fill="#268212"/>
<circle cx="318.60" cy="641.40" r="1.95" fill="#268212"/>
<circle cx="329.70" cy="639.30" r="1.95" fill="#268212"/>
<circle cx="324.50" cy="640.50" r="1.95" fill="#268212"/>
<circle cx="345.50" cy="618.60" r="1.95" fill="#268212"/>
<circle cx="345.50" cy="634.10" r="1.95" fill="#268212"/>
<circle cx="340.20" cy="648.40" r="1.95" fill="#268212"/>
<circle cx="344.00" cy="645.50" r="1.95" fill="#268212"/>
<circle cx="347.20" cy="647.20" r="1.95" fill="#268212"/>
<circle cx="350.50" cy="645.50" r="1.95" fill="#268212"/>
<circle cx="365.70" cy="630.30" r="1.95" fill="#268212"/>
<circle cx="363.00" cy="640.80" r="1.95" fill="#268212"/>
<circle cx="368.20" cy="641.40" r="1.95" fill="#268212"/>
<circle cx="360.70" cy="649.00" r="1.95" fill="#268212"/>
<circle cx="365.70" cy="646.60" r="1.95" fill="#268212"/>
<circle cx="381.10" cy="617.80" r="1.95" fill="#268212"/>
<circle cx="387.50" cy="619.80" r="1.95" fill="#268212"/>
<circle cx="391.00" cy="620.60" r="1.95" fill="#268212"/>
<circle cx="387.50" cy="623.90" r="1.95" fill="#268212"/>
<circle cx="386.10" cy="632.30" r="1.95" fill="#268212"/>
<circle cx="406.40" cy="615.50" r="1.95" fill="#268212"/>
<circle cx="401.30" cy="627.10" r="1.95" fill="#268212"/>
<circle cx="411.50" cy="627.40" r="1.95" fill="#268212"/>
<circle cx="406.40" cy="630.30" r="1.95" fill="#268212"/>
<circle cx="401.50" cy="630.60" r="1.95" fill="#268212"/>
<circle cx="411.50" cy="632.60" r="1.95" fill="#268212"/>
<circle cx="427.20" cy="599.30" r="1.95" fill="#2200ff"/>
<circle cx="423.50" cy="613.40" r="1.95" fill="#2200ff"/>
<circle cx="430.50" cy="613.40" r="1.95" fill="#2200ff"/>
<circle cx="427.20" cy="618.60" r="1.95" fill="#2200ff"/>
<circle cx="427.20" cy="624.10" r="1.95" fill="#2200ff"/>
<circle cx="427.20" cy="627.60" r="1.95" fill="#2200ff"/>
<circle cx="444.40" cy="593.50" r="1.95" fill="#2200ff"/>
<circle cx="450.90" cy="590.60" r="1.95" fill="#2200ff"/>
<circle cx="450.90" cy="595.50" r="1.95" fill="#2200ff"/>
<circle cx="447.60" cy="600.70" r="1.95" fill="#2200ff"/>
<circle cx="447.60" cy="611.00" r="1.95" fill="#2200ff"/>
<circle cx="447.60" cy="624.50" r="1.95" fill="#2200ff"/>
<circle cx="467.80" cy="592.50" r="1.95" fill="#2200ff"/>
<circle cx="467.80" cy="608.20" r="1.95" fill="#2200ff"/>
<circle cx="464.30" cy="613.40" r="1.95" fill="#2200ff"/>
<circle cx="471.60" cy="611.80" r="1.95" fill="#2200ff"/>
<circle cx="467.80" cy="622.90" r="1.95" fill="#2200ff"/>
<circle cx="467.80" cy="633.80" r="1.95" fill="#2200ff"/>
<circle cx="487.90" cy="604.40" r="1.95" fill="#2200ff"/>
<circle cx="487.90" cy="608.50" r="1.95" fill="#2200ff"/>
<circle cx="487.90" cy="620.80" r="1.95" fill="#2200ff"/>
<circle cx="488.40" cy="624.80" r="1.95" fill="#2200ff"/>
<circle cx="484.60" cy="633.00" r="1.95" fill="#2200ff"/>
<circle cx="491.20" cy="631.40" r="1.95" fill="#2200ff"/>
<circle cx="508.00" cy="549.50" r="1.95" fill="#2200ff"/>
<circle cx="508.00" cy="595.50" r="1.95" fill="#2200ff"/>
<circle cx="504.20" cy="606.90" r="1.95" fill="#2200ff"/>
<circle cx="511.60" cy="606.60" r="1.95" fill="#2200ff"/>
<circle cx="508.00" cy="622.40" r="1.95" fill="#2200ff"/>
<circle cx="508.00" cy="640.30" r="1.95" fill="#2200ff"/>
<circle cx="524.90" cy="608.70" r="1.95" fill="#2200ff"/>
<circle cx="531.60" cy="606.20" r="1.95" fill="#2200ff"/>
<circle cx="528.20" cy="614.50" r="1.95" fill="#2200ff"/>
<circle cx="524.90" cy="618.20" r="1.95" fill="#2200ff"/>
<circle cx="531.90" cy="621.10" r="1.95" fill="#2200ff"/>
<circle cx="528.20" cy="636.40" r="1.95" fill="#2200ff"/>
<circle cx="548.20" cy="578.80" r="1.95" fill="#2200ff"/>
<circle cx="548.20" cy="588.70" r="1.95" fill="#2200ff"/>
<circle cx="548.20" cy="596.30" r="1.95" fill="#2200ff"/>
<circle cx="548.20" cy="620.40" r="1.95" fill="#2200ff"/>
<circle cx="548.20" cy="626.20" r="1.95" fill="#2200ff"/>
<circle cx="548.20" cy="632.00" r="1.95" fill="#2200ff"/>
<circle cx="568.70" cy="589.30" r="1.95" fill="#2200ff"/>
<circle cx="568.70" cy="601.40" r="1.95" fill="#2200ff"/>
<circle cx="568.70" cy="609.70" r="1.95" fill="#2200ff"/>
<circle cx="568.70" cy="618.20" r="1.95" fill="#2200ff"/>
<circle cx="568.70" cy="625.80" r="1.95" fill="#2200ff"/>
<path d="M585.20,608.70 L587.10,607.20 L589.00,608.70 L587.10,610.20 Z" fill="#000"/>
<path d="M591.00,609.40 L592.90,607.90 L594.80,609.40 L592.90,610.90 Z" fill="#000"/>
<path d="M588.40,627.40 L590.30,625.90 L592.20,627.40 L590.30,628.90 Z" fill="#000"/>
<path d="M608.40,621.30 L610.30,619.80 L612.20,621.30 L610.30,622.80 Z" fill="#000"/>
<path d="M608.40,625.60 L610.30,624.10 L612.20,625.60 L610.30,627.10 Z" fill="#000"/>
<path d="M608.40,639.80 L610.30,638.30 L612.20,639.80 L610.30,641.30 Z" fill="#000"/>
<path d="M628.80,615.80 L630.70,614.30 L632.60,615.80 L630.70,617.30 Z" fill="#000"/>
<path d="M628.80,633.10 L630.70,631.60 L632.60,633.10 L630.70,634.60 Z" fill="#000"/>
<path d="M628.80,641.90 L630.70,640.40 L632.60,641.90 L630.70,643.40 Z" fill="#000"/>
<path d="M649.00,538.20 L650.90,536.70 L652.80,538.20 L650.90,539.70 Z" fill="#000"/>
<path d="M649.00,551.60 L650.90,550.10 L652.80,551.60 L650.90,553.10 Z" fill="#000"/>
<path d="M669.10,625.00 L671.00,623.50 L672.90,625.00 L671.00,626.50 Z" fill="#000"/>
<path d="M669.10,646.40 L671.00,644.90 L672.90,646.40 L671.00,647.90 Z" fill="#000"/>
<path d="M669.10,651.40 L671.00,649.90 L672.90,651.40 L671.00,652.90 Z" fill="#000"/>
<text x="0" y="0" font-size="12.3" text-anchor="end" fill="#1e1e1e" transform="translate(73.55,678.60) rotate(-45)">Aspergillus</text>
<text x="0" y="0" font-size="13.3" text-anchor="end" fill="#1e1e1e" transform="translate(92.80,680.20) rotate(-45)">1</text>
<text x="0" y="0" font-size="13.3" text-anchor="end" fill="#1e1e1e" transform="translate(112.40,680.20) rotate(-45)">2</text>
<text x="0" y="0" font-size="13.3" text-anchor="end" fill="#1e1e1e" transform="translate(132.00,680.20) rotate(-45)">3</text>
<text x="0" y="0" font-size="13.3" text-anchor="end" fill="#1e1e1e" transform="translate(151.50,680.20) rotate(-45)">4</text>
<text x="0" y="0" font-size="13.3" text-anchor="end" fill="#1e1e1e" transform="translate(170.90,680.20) rotate(-45)">5</text>
<text x="0" y="0" font-size="12.3" text-anchor="end" fill="#1e1e1e" transform="translate(191.00,678.60) rotate(-45)">A. niger</text>
<text x="0" y="0" font-size="12.3" text-anchor="end" fill="#1e1e1e" transform="translate(210.60,678.60) rotate(-45)">A. flavus</text>
<text x="0" y="0" font-size="12.3" text-anchor="end" fill="#1e1e1e" transform="translate(230.30,678.60) rotate(-45)">A. calidoustus</text>
<text x="0" y="0" font-size="12.3" text-anchor="end" fill="#1e1e1e" transform="translate(248.80,678.60) rotate(-45)">A. terreus</text>
<text x="0" y="0" font-size="12.3" text-anchor="end" font-style="italic" fill="#1e1e1e" transform="translate(266.70,681.30) rotate(-45)">Rhizopus</text>
<text x="0" y="0" font-size="13.3" text-anchor="end" fill="#1e1e1e" transform="translate(288.30,680.20) rotate(-45)">1</text>
<text x="0" y="0" font-size="13.3" text-anchor="end" fill="#1e1e1e" transform="translate(308.60,680.20) rotate(-45)">2</text>
<text x="0" y="0" font-size="13.3" text-anchor="end" fill="#1e1e1e" transform="translate(329.10,680.20) rotate(-45)">3</text>
<text x="0" y="0" font-size="13.3" text-anchor="end" fill="#1e1e1e" transform="translate(349.40,680.20) rotate(-45)">4</text>
<text x="0" y="0" font-size="13.3" text-anchor="end" fill="#1e1e1e" transform="translate(369.90,680.20) rotate(-45)">5</text>
<text x="0" y="0" font-size="13.3" text-anchor="end" fill="#1e1e1e" transform="translate(390.20,680.20) rotate(-45)">6</text>
<text x="0" y="0" font-size="13.3" text-anchor="end" fill="#1e1e1e" transform="translate(410.70,680.20) rotate(-45)">7</text>
<text x="0" y="0" font-size="12.3" text-anchor="end" font-style="italic" fill="#1e1e1e" transform="translate(430.50,681.30) rotate(-45)">Mucor</text>
<text x="0" y="0" font-size="13.3" text-anchor="end" fill="#1e1e1e" transform="translate(452.40,680.20) rotate(-45)">1</text>
<text x="0" y="0" font-size="13.3" text-anchor="end" fill="#1e1e1e" transform="translate(472.60,680.20) rotate(-45)">2</text>
<text x="0" y="0" font-size="13.3" text-anchor="end" fill="#1e1e1e" transform="translate(493.10,680.20) rotate(-45)">3</text>
<text x="0" y="0" font-size="13.3" text-anchor="end" fill="#1e1e1e" transform="translate(513.40,680.20) rotate(-45)">4</text>
<text x="0" y="0" font-size="13.3" text-anchor="end" fill="#1e1e1e" transform="translate(533.90,680.20) rotate(-45)">5</text>
<text x="0" y="0" font-size="13.3" text-anchor="end" fill="#1e1e1e" transform="translate(554.00,680.20) rotate(-45)">6</text>
<text x="0" y="0" font-size="12.3" text-anchor="end" fill="#1e1e1e" transform="translate(574.90,678.60) rotate(-45)">M. velutinosus</text>
<text x="0" y="0" font-size="12.3" text-anchor="end" fill="#1e1e1e" transform="translate(596.20,678.60) rotate(-45)">L. corymbifera</text>
<text x="0" y="0" font-size="12.3" text-anchor="end" fill="#1e1e1e" transform="translate(616.90,678.60) rotate(-45)">S. racemosum</text>
<text x="0" y="0" font-size="12.3" text-anchor="end" fill="#1e1e1e" transform="translate(636.60,678.60) rotate(-45)">C. bertholletiae</text>
<text x="0" y="0" font-size="12.3" text-anchor="end" fill="#1e1e1e" transform="translate(656.70,678.60) rotate(-45)">C. bantiana</text>
<text x="0" y="0" font-size="12.3" text-anchor="end" fill="#1e1e1e" transform="translate(676.40,678.60) rotate(-45)">F. solani</text>
</svg></body></html>
